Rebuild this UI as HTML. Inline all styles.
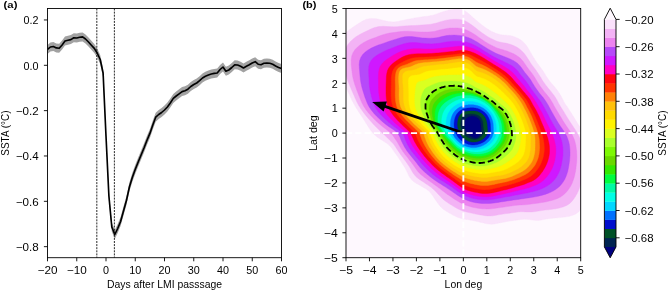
<!DOCTYPE html>
<html><head><meta charset="utf-8"><title>figure</title>
<style>html,body{margin:0;padding:0;background:#fff}body{width:669px;height:291px;overflow:hidden;position:relative;font-family:"Liberation Sans",sans-serif}</style></head>
<body>
<svg width="669" height="291" viewBox="0 0 669 291" style="display:block;position:absolute;left:0;top:0">
<defs>
<clipPath id="cr"><rect x="346.0" y="8.5" width="234.70000000000005" height="249.2"/></clipPath>
<clipPath id="cl"><rect x="47.5" y="8.5" width="234.0" height="249.2"/></clipPath>
</defs>
<rect x="0" y="0" width="669" height="291" fill="#fff"/>
<rect x="346.0" y="8.5" width="234.70000000000005" height="249.2" fill="#fef8fe"/>
<g clip-path="url(#cr)" shape-rendering="geometricPrecision">
<path d="M368.1,126.5 L366.4,123.7 L364.5,120.8 L362.6,117.8 L360.5,114.6 L358.3,111.3 L356.2,107.9 L354.2,104.4 L352.2,100.7 L350.4,96.9 L348.6,93.0 L346.6,88.9 L344.6,84.6 L342.4,80.1 L340.3,75.4 L338.5,70.6 L337.2,65.8 L336.4,61.1 L336.1,56.5 L336.5,52.1 L337.4,47.9 L338.8,44.0 L340.7,40.2 L342.9,36.7 L345.4,33.4 L348.4,30.5 L351.8,28.0 L355.4,25.6 L358.9,23.3 L362.5,21.1 L366.3,19.3 L370.9,18.4 L376.5,18.8 L382.8,20.3 L388.6,21.6 L393.4,22.0 L397.3,21.6 L400.8,20.8 L404.4,20.0 L407.8,19.3 L411.2,18.7 L414.6,18.0 L417.9,17.4 L421.2,16.9 L424.5,16.5 L427.8,16.2 L430.9,15.6 L434.0,14.9 L436.9,13.9 L439.8,12.8 L442.8,11.8 L445.7,10.9 L448.8,10.1 L451.8,9.5 L454.9,9.1 L458.0,9.1 L461.2,9.5 L464.4,10.6 L467.5,12.7 L470.6,15.3 L473.5,17.9 L476.3,20.3 L478.9,22.6 L481.5,24.7 L484.0,26.6 L486.4,28.3 L488.8,29.8 L491.2,31.2 L493.5,32.3 L495.9,33.3 L498.3,34.1 L500.7,34.7 L503.2,35.1 L505.8,35.3 L508.5,35.4 L511.1,35.8 L513.6,36.5 L516.0,37.4 L518.3,38.5 L520.6,39.8 L522.6,41.4 L524.5,43.2 L526.2,45.3 L527.8,47.5 L529.2,49.9 L530.5,52.2 L531.8,54.5 L533.1,56.7 L534.4,58.8 L535.8,60.9 L537.1,62.9 L538.5,64.8 L539.9,66.7 L541.3,68.6 L542.7,70.5 L544.0,72.4 L545.2,74.4 L546.4,76.4 L547.7,78.3 L549.0,80.2 L550.4,82.1 L552.0,83.9 L553.6,85.7 L555.1,87.6 L556.7,89.5 L558.1,91.5 L559.4,93.5 L560.7,95.6 L561.9,97.8 L563.0,100.0 L564.2,102.2 L565.5,104.4 L567.0,106.6 L568.6,108.9 L570.1,111.2 L571.6,113.6 L573.1,116.0 L574.6,118.5 L576.2,121.1 L577.9,123.8 L579.7,126.5 L581.4,129.3 L583.0,132.2 L584.5,135.2 L585.7,138.3 L586.8,141.4 L587.7,144.6 L588.5,147.8 L589.2,151.1 L589.8,154.4 L590.3,157.8 L590.7,161.2 L590.9,164.7 L591.0,168.1 L590.9,171.6 L590.6,175.0 L590.2,178.5 L589.7,181.9 L589.1,185.4 L588.3,188.8 L587.4,192.3 L586.4,195.7 L585.3,199.1 L584.0,202.5 L582.7,205.8 L581.0,209.0 L578.8,211.7 L575.9,213.9 L572.3,215.5 L568.3,216.5 L564.1,217.1 L559.9,217.6 L555.8,217.9 L551.9,218.3 L548.2,218.7 L544.7,219.3 L541.4,220.0 L538.0,220.4 L534.4,220.3 L530.7,219.8 L527.1,219.3 L523.8,219.2 L520.9,219.5 L518.0,219.9 L515.3,220.3 L512.5,220.7 L509.8,221.1 L507.1,221.4 L504.5,221.9 L501.9,222.4 L499.3,223.0 L496.8,223.5 L494.2,223.9 L491.6,224.2 L489.0,224.1 L486.3,223.7 L483.6,223.0 L481.0,222.4 L478.5,221.8 L476.0,221.2 L473.5,220.7 L471.0,220.3 L468.6,219.8 L466.2,219.4 L463.8,219.0 L461.4,218.4 L459.0,217.8 L456.7,216.9 L454.5,215.8 L452.3,214.7 L450.2,213.5 L448.1,212.3 L446.0,211.0 L444.0,209.7 L442.1,208.2 L440.4,206.4 L438.8,204.5 L437.3,202.5 L435.9,200.4 L434.5,198.4 L433.2,196.4 L431.8,194.5 L430.5,192.7 L429.0,191.3 L427.4,190.0 L425.7,188.8 L423.9,187.7 L422.1,186.7 L420.3,185.6 L418.4,184.5 L416.5,183.5 L414.7,182.3 L412.9,181.0 L411.4,179.5 L410.1,177.8 L409.0,176.0 L408.1,174.0 L407.2,172.1 L406.2,170.2 L405.2,168.3 L404.1,166.5 L403.0,164.8 L401.9,163.0 L400.8,161.2 L399.6,159.4 L398.4,157.6 L397.1,155.8 L395.8,154.0 L394.5,152.2 L393.2,150.3 L391.9,148.4 L390.4,146.5 L388.4,144.6 L385.9,142.7 L382.9,140.8 L379.8,138.8 L376.8,136.7 L374.1,134.3 L371.9,131.8 L369.9,129.2Z" fill="#fae1fb" stroke="#fae1fb" stroke-width="0.4"/>
<path d="M375.6,126.5 L373.1,123.9 L370.6,121.1 L368.1,118.2 L365.6,115.2 L363.1,112.0 L360.7,108.6 L358.6,105.2 L356.8,101.7 L355.1,98.1 L353.5,94.3 L351.8,90.5 L350.1,86.4 L348.3,82.2 L346.7,77.8 L345.4,73.4 L344.5,69.0 L343.8,64.6 L343.5,60.3 L343.6,56.0 L344.3,51.9 L345.7,48.2 L347.7,44.8 L350.2,41.8 L353.1,39.0 L356.3,36.6 L359.8,34.4 L363.5,32.5 L367.2,30.8 L370.8,29.1 L374.6,27.6 L378.7,26.6 L383.2,26.3 L388.2,26.6 L392.8,26.8 L396.9,26.7 L400.7,26.3 L404.4,25.9 L408.1,25.8 L411.7,25.6 L415.2,25.5 L418.5,25.3 L421.8,25.0 L425.0,24.8 L428.1,24.5 L431.1,24.2 L434.0,23.6 L436.8,22.9 L439.6,22.0 L442.3,21.2 L445.1,20.5 L447.9,19.9 L450.8,19.5 L453.6,19.3 L456.5,19.3 L459.4,19.4 L462.3,19.9 L465.2,20.9 L468.0,22.4 L470.8,24.3 L473.5,26.3 L476.1,28.3 L478.5,30.2 L480.9,32.0 L483.3,33.7 L485.5,35.2 L487.7,36.7 L489.9,37.9 L492.1,39.0 L494.3,40.1 L496.4,41.0 L498.6,41.7 L500.8,42.3 L503.2,42.7 L505.5,43.1 L507.8,43.6 L510.1,44.3 L512.3,45.1 L514.5,46.0 L516.6,47.1 L518.6,48.3 L520.5,49.8 L522.3,51.4 L523.9,53.1 L525.4,55.0 L526.8,57.0 L528.1,59.1 L529.4,61.1 L530.6,63.0 L531.9,64.9 L533.3,66.7 L534.6,68.5 L536.0,70.3 L537.2,72.1 L538.5,73.9 L539.6,75.8 L540.8,77.6 L541.9,79.5 L543.0,81.3 L544.3,83.1 L545.6,84.9 L546.9,86.6 L548.4,88.4 L549.8,90.1 L551.3,91.9 L552.7,93.7 L554.1,95.6 L555.4,97.5 L556.6,99.5 L557.7,101.6 L558.8,103.7 L560.0,105.7 L561.3,107.8 L562.7,110.0 L564.1,112.2 L565.4,114.4 L566.8,116.7 L568.2,119.0 L569.8,121.5 L571.4,123.9 L573.1,126.5 L574.9,129.2 L576.6,131.9 L578.2,134.7 L579.6,137.6 L580.7,140.6 L581.6,143.6 L582.3,146.7 L582.9,149.7 L583.3,152.9 L583.6,156.0 L583.8,159.2 L583.8,162.3 L583.7,165.5 L583.5,168.7 L583.2,171.9 L582.7,175.1 L582.2,178.3 L581.5,181.5 L580.6,184.6 L579.6,187.7 L578.4,190.8 L577.0,193.7 L575.4,196.5 L573.6,199.2 L571.6,201.7 L569.1,203.9 L566.2,205.7 L562.9,207.0 L559.4,208.0 L555.7,208.7 L552.1,209.3 L548.4,209.7 L544.9,210.1 L541.6,210.6 L538.4,211.1 L535.3,211.6 L532.2,211.9 L529.0,212.0 L525.8,211.9 L522.7,211.7 L519.8,211.8 L517.1,212.1 L514.5,212.5 L511.9,212.8 L509.4,213.2 L506.9,213.5 L504.4,213.8 L502.0,214.2 L499.6,214.6 L497.2,215.0 L494.9,215.4 L492.5,215.8 L490.1,215.9 L487.7,215.9 L485.2,215.7 L482.8,215.3 L480.5,214.9 L478.1,214.5 L475.8,214.1 L473.5,213.6 L471.2,213.1 L469.0,212.6 L466.8,212.1 L464.6,211.4 L462.4,210.7 L460.3,209.9 L458.2,209.0 L456.2,207.9 L454.2,206.8 L452.3,205.6 L450.4,204.4 L448.6,203.3 L446.7,202.0 L445.0,200.8 L443.3,199.4 L441.7,197.9 L440.2,196.3 L438.7,194.7 L437.3,193.2 L435.9,191.7 L434.5,190.2 L433.0,188.9 L431.5,187.6 L429.9,186.4 L428.3,185.3 L426.7,184.3 L425.1,183.2 L423.5,182.1 L421.8,181.0 L420.1,179.9 L418.5,178.7 L416.9,177.5 L415.4,176.1 L414.2,174.5 L413.0,172.9 L412.0,171.2 L411.0,169.5 L410.0,167.7 L409.0,166.1 L407.8,164.4 L406.7,162.8 L405.5,161.1 L404.3,159.5 L403.1,157.8 L401.9,156.2 L400.6,154.5 L399.4,152.7 L398.2,151.0 L397.0,149.2 L395.8,147.3 L394.6,145.5 L393.1,143.6 L391.3,141.7 L389.4,139.8 L387.3,137.8 L385.2,135.8 L383.0,133.6 L380.6,131.4 L378.1,129.0Z" fill="#f3b3f5" stroke="#f3b3f5" stroke-width="0.4"/>
<path d="M382.4,126.5 L379.5,124.0 L376.6,121.4 L373.8,118.7 L371.0,115.7 L368.3,112.7 L365.8,109.4 L363.7,106.2 L361.9,102.8 L360.4,99.3 L359.0,95.8 L357.6,92.2 L356.2,88.4 L354.8,84.5 L353.6,80.5 L352.7,76.5 L352.1,72.4 L351.6,68.4 L351.2,64.2 L351.2,60.1 L351.7,56.2 L353.0,52.7 L355.1,49.6 L357.7,46.9 L360.6,44.5 L363.9,42.4 L367.4,40.6 L371.1,39.1 L374.8,37.7 L378.5,36.3 L382.0,35.0 L385.7,33.9 L389.4,33.1 L393.3,32.6 L397.1,32.1 L400.7,31.6 L404.3,31.3 L408.0,31.2 L411.8,31.4 L415.4,31.7 L418.9,31.9 L422.2,32.0 L425.4,32.0 L428.4,32.0 L431.3,31.8 L434.1,31.4 L436.8,30.8 L439.4,30.1 L442.0,29.5 L444.6,28.9 L447.2,28.4 L449.9,28.1 L452.6,28.0 L455.2,28.0 L457.9,28.1 L460.6,28.4 L463.2,29.0 L465.9,29.8 L468.5,30.9 L471.0,32.2 L473.5,33.7 L475.9,35.3 L478.2,36.9 L480.4,38.5 L482.6,40.0 L484.7,41.4 L486.8,42.7 L488.8,43.9 L490.8,45.0 L492.8,46.0 L494.8,47.0 L496.8,47.9 L498.8,48.6 L500.9,49.3 L502.9,49.8 L505.0,50.4 L507.1,51.1 L509.1,51.9 L511.1,52.7 L513.1,53.6 L515.0,54.6 L516.9,55.7 L518.7,56.9 L520.4,58.3 L521.9,59.9 L523.3,61.6 L524.6,63.4 L525.8,65.3 L527.0,67.1 L528.3,68.8 L529.6,70.4 L530.9,72.0 L532.2,73.7 L533.4,75.4 L534.5,77.1 L535.6,78.9 L536.6,80.6 L537.7,82.4 L538.7,84.1 L539.9,85.8 L541.1,87.5 L542.3,89.1 L543.6,90.8 L544.9,92.4 L546.3,94.1 L547.7,95.8 L549.1,97.5 L550.3,99.3 L551.5,101.2 L552.6,103.1 L553.6,105.0 L554.7,107.0 L555.9,109.0 L557.1,111.0 L558.3,113.1 L559.6,115.2 L560.9,117.3 L562.2,119.5 L563.6,121.8 L565.1,124.1 L566.7,126.5 L568.5,129.0 L570.2,131.6 L571.9,134.2 L573.2,137.0 L574.4,139.8 L575.2,142.6 L575.9,145.5 L576.3,148.4 L576.7,151.3 L576.8,154.2 L576.9,157.1 L576.8,160.1 L576.6,163.0 L576.2,165.9 L575.9,168.9 L575.4,171.9 L574.8,174.8 L574.1,177.7 L573.1,180.6 L572.0,183.4 L570.7,186.1 L569.1,188.6 L567.3,191.0 L565.3,193.2 L563.0,195.2 L560.5,196.9 L557.6,198.4 L554.6,199.6 L551.5,200.5 L548.3,201.3 L545.1,202.0 L542.0,202.5 L538.8,203.0 L535.8,203.4 L532.8,203.8 L530.0,204.2 L527.2,204.6 L524.4,204.8 L521.6,204.9 L518.9,205.1 L516.3,205.3 L513.8,205.6 L511.4,206.0 L509.0,206.3 L506.7,206.6 L504.4,207.0 L502.1,207.3 L499.9,207.6 L497.6,207.9 L495.4,208.3 L493.2,208.5 L491.0,208.8 L488.8,208.9 L486.6,208.9 L484.3,208.8 L482.1,208.7 L479.9,208.4 L477.8,208.2 L475.6,207.8 L473.5,207.4 L471.4,206.9 L469.3,206.3 L467.3,205.7 L465.3,205.0 L463.3,204.1 L461.4,203.2 L459.5,202.2 L457.6,201.1 L455.8,200.0 L454.1,198.9 L452.4,197.8 L450.7,196.6 L449.1,195.5 L447.4,194.4 L445.8,193.3 L444.3,192.1 L442.8,190.9 L441.3,189.8 L439.8,188.6 L438.3,187.5 L436.8,186.3 L435.3,185.2 L433.9,184.2 L432.4,183.1 L430.9,182.1 L429.4,181.0 L427.9,179.9 L426.4,178.8 L424.9,177.7 L423.4,176.6 L422.0,175.4 L420.5,174.2 L419.2,172.9 L417.9,171.5 L416.7,170.0 L415.7,168.5 L414.6,167.0 L413.6,165.4 L412.5,163.9 L411.4,162.4 L410.2,160.9 L409.0,159.4 L407.8,157.8 L406.6,156.3 L405.3,154.7 L404.1,153.1 L402.9,151.5 L401.8,149.8 L400.7,148.1 L399.7,146.3 L398.7,144.5 L397.6,142.6 L396.4,140.8 L395.2,138.9 L393.9,137.0 L392.5,135.0 L390.6,133.0 L388.2,131.0 L385.4,128.8Z" fill="#ec84ef" stroke="#ec84ef" stroke-width="0.4"/>
<path d="M388.6,126.5 L385.5,124.2 L382.5,121.7 L379.6,119.1 L376.7,116.3 L374.0,113.4 L371.5,110.3 L369.3,107.2 L367.6,104.0 L366.3,100.8 L365.0,97.4 L363.9,94.0 L362.8,90.5 L361.8,86.9 L361.0,83.3 L360.4,79.7 L360.0,76.0 L359.7,72.2 L359.4,68.3 L359.2,64.4 L359.6,60.7 L360.8,57.4 L362.7,54.6 L365.2,52.1 L368.1,49.9 L371.3,48.1 L374.7,46.5 L378.2,45.1 L381.7,43.9 L385.2,42.7 L388.5,41.5 L391.8,40.4 L395.0,39.4 L398.2,38.4 L401.4,37.5 L404.7,36.8 L408.1,36.5 L411.7,36.6 L415.4,37.0 L419.0,37.5 L422.3,37.9 L425.5,38.1 L428.5,38.2 L431.4,38.2 L434.1,38.1 L436.7,37.7 L439.2,37.2 L441.7,36.6 L444.1,36.1 L446.6,35.6 L449.1,35.3 L451.6,35.2 L454.1,35.1 L456.6,35.2 L459.1,35.4 L461.5,35.7 L464.0,36.2 L466.4,36.9 L468.8,37.7 L471.2,38.7 L473.5,39.9 L475.7,41.2 L477.9,42.5 L480.0,43.9 L482.0,45.2 L484.0,46.5 L486.0,47.7 L487.9,48.9 L489.8,50.0 L491.6,51.0 L493.5,52.0 L495.3,52.9 L497.1,53.8 L499.0,54.6 L500.8,55.3 L502.7,56.0 L504.6,56.7 L506.4,57.4 L508.3,58.2 L510.1,59.0 L512.0,59.9 L513.7,60.8 L515.5,61.9 L517.1,63.1 L518.6,64.4 L520.0,65.9 L521.3,67.5 L522.5,69.2 L523.6,70.8 L524.8,72.4 L526.1,73.9 L527.3,75.4 L528.5,76.9 L529.7,78.5 L530.8,80.1 L531.8,81.8 L532.8,83.4 L533.8,85.1 L534.8,86.7 L535.9,88.3 L537.0,89.8 L538.2,91.4 L539.3,93.0 L540.6,94.5 L541.8,96.1 L543.2,97.6 L544.4,99.3 L545.6,101.0 L546.7,102.7 L547.8,104.5 L548.8,106.3 L549.8,108.2 L550.8,110.1 L551.9,112.0 L553.0,113.9 L554.1,115.9 L555.3,117.9 L556.5,120.0 L557.7,122.1 L559.1,124.3 L560.6,126.5 L562.2,128.8 L563.9,131.2 L565.4,133.7 L566.8,136.3 L567.8,138.9 L568.7,141.6 L569.3,144.2 L569.7,146.9 L569.9,149.7 L570.0,152.4 L570.0,155.1 L569.8,157.8 L569.6,160.5 L569.2,163.2 L568.8,166.0 L568.3,168.7 L567.7,171.4 L566.9,174.1 L565.9,176.7 L564.8,179.2 L563.4,181.6 L561.8,183.8 L560.0,185.9 L557.9,187.8 L555.6,189.5 L553.1,191.0 L550.5,192.3 L547.8,193.4 L545.0,194.4 L542.2,195.2 L539.4,195.9 L536.6,196.5 L533.8,197.1 L531.0,197.5 L528.3,197.9 L525.7,198.3 L523.1,198.7 L520.6,199.0 L518.2,199.4 L515.8,199.7 L513.4,200.0 L511.1,200.4 L508.9,200.7 L506.7,201.1 L504.5,201.4 L502.4,201.7 L500.3,202.0 L498.2,202.4 L496.1,202.7 L494.0,203.0 L491.9,203.2 L489.8,203.4 L487.8,203.5 L485.7,203.5 L483.6,203.5 L481.6,203.4 L479.5,203.2 L477.5,203.0 L475.5,202.7 L473.5,202.3 L471.5,201.8 L469.6,201.2 L467.7,200.6 L465.8,199.8 L464.0,199.0 L462.2,198.0 L460.4,197.0 L458.7,196.0 L457.1,194.9 L455.5,193.8 L453.9,192.7 L452.3,191.6 L450.8,190.6 L449.3,189.6 L447.8,188.6 L446.3,187.6 L444.8,186.6 L443.3,185.7 L441.9,184.7 L440.4,183.8 L438.9,182.9 L437.5,182.0 L436.0,181.0 L434.6,180.0 L433.2,179.0 L431.8,178.0 L430.5,176.9 L429.1,175.8 L427.8,174.7 L426.4,173.6 L425.1,172.4 L423.8,171.3 L422.5,170.1 L421.3,168.8 L420.1,167.5 L419.0,166.1 L417.9,164.7 L416.9,163.3 L415.8,161.9 L414.7,160.5 L413.5,159.1 L412.4,157.7 L411.2,156.2 L410.0,154.8 L408.8,153.3 L407.6,151.8 L406.5,150.2 L405.5,148.6 L404.5,146.9 L403.6,145.2 L402.7,143.5 L401.8,141.7 L401.0,139.9 L400.3,138.1 L399.5,136.2 L398.4,134.4 L396.8,132.5 L394.5,130.6 L391.7,128.6Z" fill="#b64af9" stroke="#b64af9" stroke-width="0.4"/>
<path d="M394.1,126.5 L391.3,124.3 L388.5,122.0 L385.8,119.6 L383.1,117.0 L380.5,114.3 L378.1,111.4 L376.1,108.5 L374.5,105.5 L373.3,102.5 L372.3,99.4 L371.4,96.3 L370.7,93.1 L370.0,89.9 L369.5,86.6 L369.2,83.3 L369.1,80.0 L368.9,76.6 L368.7,73.1 L368.6,69.5 L368.9,66.1 L369.8,63.0 L371.4,60.2 L373.6,57.8 L376.2,55.8 L379.0,54.0 L382.0,52.4 L385.0,50.9 L388.1,49.6 L391.2,48.4 L394.2,47.2 L397.2,46.1 L400.2,45.0 L403.1,44.1 L406.1,43.2 L409.2,42.7 L412.4,42.5 L415.9,42.6 L419.3,43.0 L422.6,43.4 L425.7,43.7 L428.6,43.8 L431.4,43.9 L434.1,43.8 L436.6,43.6 L439.0,43.3 L441.4,42.9 L443.7,42.4 L446.1,42.0 L448.4,41.7 L450.7,41.5 L453.0,41.3 L455.4,41.2 L457.7,41.2 L460.0,41.3 L462.3,41.4 L464.6,41.8 L466.9,42.3 L469.1,43.0 L471.3,43.8 L473.5,44.7 L475.6,45.8 L477.7,46.9 L479.7,48.1 L481.6,49.3 L483.5,50.5 L485.3,51.7 L487.2,52.8 L488.9,53.9 L490.7,54.9 L492.4,55.9 L494.1,56.9 L495.8,57.8 L497.5,58.7 L499.2,59.5 L500.9,60.3 L502.6,61.1 L504.3,61.9 L506.0,62.7 L507.7,63.5 L509.3,64.4 L511.0,65.3 L512.6,66.3 L514.1,67.4 L515.5,68.7 L516.8,70.0 L518.1,71.5 L519.2,73.0 L520.3,74.5 L521.5,76.0 L522.7,77.3 L523.8,78.7 L525.0,80.1 L526.1,81.6 L527.2,83.0 L528.2,84.6 L529.2,86.1 L530.2,87.6 L531.2,89.0 L532.3,90.5 L533.4,91.9 L534.5,93.4 L535.6,94.9 L536.7,96.4 L537.8,97.9 L539.0,99.4 L540.1,100.9 L541.2,102.5 L542.2,104.2 L543.2,105.9 L544.1,107.6 L545.1,109.3 L546.0,111.1 L547.0,112.9 L548.0,114.7 L548.9,116.6 L549.9,118.5 L551.0,120.4 L552.1,122.4 L553.2,124.4 L554.4,126.5 L555.8,128.7 L557.2,130.9 L558.5,133.2 L559.7,135.6 L560.7,138.0 L561.5,140.4 L562.1,142.9 L562.5,145.4 L562.8,147.9 L562.9,150.5 L562.9,153.0 L562.8,155.5 L562.5,158.0 L562.1,160.5 L561.7,163.0 L561.2,165.5 L560.5,168.0 L559.7,170.4 L558.7,172.8 L557.6,175.1 L556.3,177.2 L554.8,179.3 L553.1,181.2 L551.2,183.0 L549.2,184.6 L547.0,186.0 L544.7,187.3 L542.2,188.4 L539.8,189.4 L537.3,190.3 L534.8,191.1 L532.2,191.7 L529.7,192.3 L527.2,192.9 L524.8,193.3 L522.4,193.8 L520.1,194.2 L517.8,194.7 L515.5,195.1 L513.4,195.5 L511.2,196.0 L509.1,196.4 L507.0,196.7 L504.9,197.1 L502.9,197.5 L500.9,197.9 L498.9,198.2 L496.9,198.6 L494.9,198.9 L493.0,199.2 L491.0,199.4 L489.0,199.6 L487.1,199.7 L485.1,199.7 L483.1,199.7 L481.2,199.6 L479.2,199.4 L477.3,199.2 L475.4,198.8 L473.5,198.4 L471.6,198.0 L469.8,197.4 L468.0,196.8 L466.2,196.1 L464.4,195.3 L462.7,194.4 L461.1,193.4 L459.5,192.4 L457.9,191.4 L456.4,190.3 L454.9,189.2 L453.5,188.2 L452.0,187.1 L450.6,186.2 L449.2,185.2 L447.8,184.3 L446.4,183.4 L445.0,182.5 L443.6,181.6 L442.2,180.7 L440.8,179.9 L439.4,179.0 L438.0,178.1 L436.7,177.2 L435.4,176.2 L434.1,175.2 L432.8,174.2 L431.5,173.1 L430.3,172.0 L429.1,170.9 L427.9,169.8 L426.7,168.7 L425.5,167.5 L424.3,166.3 L423.2,165.1 L422.1,163.9 L421.0,162.6 L420.0,161.3 L418.9,160.0 L417.8,158.6 L416.7,157.3 L415.6,156.0 L414.5,154.6 L413.4,153.3 L412.3,151.8 L411.2,150.4 L410.2,148.9 L409.2,147.4 L408.3,145.8 L407.4,144.2 L406.6,142.6 L405.9,140.9 L405.2,139.2 L404.6,137.4 L403.9,135.7 L402.9,133.9 L401.5,132.2 L399.5,130.4 L396.9,128.5Z" fill="#cf18ff" stroke="#cf18ff" stroke-width="0.4"/>
<path d="M399.2,126.5 L396.8,124.5 L394.4,122.4 L392.1,120.1 L389.8,117.7 L387.5,115.2 L385.5,112.6 L383.7,109.8 L382.2,107.1 L381.1,104.3 L380.3,101.5 L379.7,98.7 L379.2,95.9 L378.8,93.0 L378.6,90.1 L378.5,87.1 L378.5,84.2 L378.5,81.2 L378.4,78.1 L378.5,74.9 L378.7,71.8 L379.3,68.8 L380.4,66.1 L382.1,63.7 L384.1,61.6 L386.5,59.7 L389.0,58.0 L391.4,56.4 L393.9,54.9 L396.5,53.5 L399.2,52.2 L402.0,51.1 L404.8,50.3 L407.8,49.6 L410.8,49.1 L413.9,48.8 L417.0,48.7 L420.1,48.8 L423.1,48.9 L426.0,49.0 L428.8,49.1 L431.4,49.0 L434.0,48.9 L436.4,48.8 L438.8,48.6 L441.1,48.3 L443.4,48.0 L445.6,47.7 L447.8,47.4 L450.0,47.2 L452.2,47.0 L454.4,46.7 L456.5,46.5 L458.6,46.3 L460.8,46.2 L462.9,46.2 L465.1,46.4 L467.2,46.8 L469.4,47.4 L471.4,48.0 L473.5,48.8 L475.5,49.7 L477.5,50.7 L479.4,51.8 L481.2,52.9 L483.0,54.0 L484.8,55.1 L486.5,56.2 L488.2,57.2 L489.9,58.3 L491.5,59.3 L493.1,60.2 L494.7,61.2 L496.3,62.1 L497.9,63.0 L499.4,63.9 L501.0,64.7 L502.5,65.6 L504.1,66.5 L505.6,67.4 L507.1,68.4 L508.5,69.3 L509.9,70.4 L511.3,71.5 L512.6,72.7 L513.9,73.9 L515.0,75.2 L516.1,76.6 L517.2,78.0 L518.3,79.3 L519.4,80.6 L520.5,81.9 L521.6,83.2 L522.7,84.5 L523.8,85.8 L524.8,87.1 L525.8,88.5 L526.8,89.9 L527.9,91.2 L529.0,92.5 L530.1,93.8 L531.2,95.2 L532.2,96.6 L533.2,98.0 L534.2,99.5 L535.1,101.0 L536.1,102.5 L537.0,104.0 L537.9,105.6 L538.8,107.2 L539.7,108.8 L540.6,110.4 L541.5,112.0 L542.4,113.7 L543.2,115.5 L544.1,117.2 L544.9,119.0 L545.7,120.8 L546.6,122.7 L547.5,124.6 L548.5,126.5 L549.5,128.5 L550.5,130.5 L551.6,132.6 L552.5,134.8 L553.3,137.0 L554.1,139.3 L554.7,141.6 L555.2,143.9 L555.6,146.2 L555.8,148.5 L555.8,150.9 L555.8,153.2 L555.5,155.6 L555.2,157.9 L554.8,160.2 L554.2,162.4 L553.5,164.7 L552.7,166.9 L551.8,169.0 L550.7,171.1 L549.5,173.1 L548.2,175.0 L546.8,176.8 L545.2,178.6 L543.5,180.2 L541.6,181.7 L539.7,183.0 L537.6,184.2 L535.3,185.2 L533.1,186.1 L530.8,186.9 L528.6,187.7 L526.3,188.3 L524.1,188.9 L521.9,189.5 L519.7,190.0 L517.5,190.6 L515.4,191.1 L513.4,191.6 L511.4,192.1 L509.4,192.6 L507.4,193.0 L505.4,193.4 L503.5,193.9 L501.6,194.3 L499.7,194.7 L497.8,195.1 L495.9,195.5 L494.0,195.9 L492.2,196.2 L490.3,196.4 L488.4,196.6 L486.5,196.7 L484.6,196.7 L482.7,196.6 L480.9,196.5 L479.0,196.3 L477.1,196.0 L475.3,195.6 L473.5,195.2 L471.7,194.8 L469.9,194.3 L468.2,193.7 L466.5,193.1 L464.8,192.3 L463.2,191.5 L461.6,190.6 L460.1,189.6 L458.6,188.6 L457.2,187.5 L455.7,186.5 L454.4,185.4 L453.0,184.4 L451.6,183.4 L450.3,182.5 L449.0,181.6 L447.7,180.7 L446.3,179.8 L445.0,178.9 L443.7,178.0 L442.5,177.2 L441.2,176.3 L439.9,175.4 L438.6,174.5 L437.4,173.6 L436.2,172.6 L435.0,171.6 L433.8,170.6 L432.6,169.6 L431.5,168.5 L430.4,167.4 L429.3,166.3 L428.2,165.2 L427.1,164.1 L426.0,163.0 L424.9,161.8 L423.9,160.6 L422.8,159.4 L421.8,158.2 L420.8,156.9 L419.8,155.6 L418.8,154.4 L417.8,153.1 L416.8,151.7 L415.8,150.4 L414.8,149.0 L413.9,147.6 L412.9,146.2 L412.0,144.7 L411.2,143.2 L410.4,141.6 L409.7,140.1 L409.0,138.4 L408.4,136.8 L407.7,135.2 L406.7,133.5 L405.4,131.9 L403.6,130.2 L401.5,128.4Z" fill="#ff00c3" stroke="#ff00c3" stroke-width="0.4"/>
<path d="M403.9,126.5 L401.9,124.6 L399.9,122.6 L397.8,120.5 L395.8,118.3 L393.8,116.0 L392.0,113.6 L390.3,111.1 L388.9,108.5 L387.9,106.0 L387.2,103.4 L386.7,100.8 L386.3,98.2 L386.1,95.6 L386.0,92.9 L386.0,90.2 L386.0,87.6 L386.1,84.8 L386.2,82.0 L386.3,79.1 L386.4,76.2 L386.8,73.4 L387.5,70.6 L388.6,68.2 L390.2,66.0 L392.1,64.1 L394.3,62.3 L396.5,60.7 L398.7,59.2 L401.1,57.8 L403.5,56.5 L406.1,55.5 L408.8,54.7 L411.7,54.2 L414.7,53.9 L417.7,53.8 L420.7,53.8 L423.5,53.7 L426.2,53.7 L428.8,53.6 L431.3,53.5 L433.8,53.3 L436.1,53.1 L438.4,52.9 L440.6,52.7 L442.8,52.4 L445.0,52.2 L447.1,52.0 L449.2,51.8 L451.3,51.6 L453.4,51.4 L455.4,51.1 L457.4,50.8 L459.4,50.6 L461.4,50.4 L463.5,50.3 L465.5,50.4 L467.5,50.8 L469.6,51.3 L471.5,52.0 L473.5,52.7 L475.4,53.6 L477.3,54.5 L479.1,55.4 L480.9,56.4 L482.6,57.4 L484.3,58.4 L485.9,59.5 L487.5,60.5 L489.1,61.5 L490.7,62.5 L492.2,63.4 L493.7,64.4 L495.2,65.3 L496.6,66.2 L498.1,67.1 L499.5,68.0 L501.0,68.9 L502.4,69.9 L503.7,70.8 L505.1,71.8 L506.4,72.8 L507.7,73.9 L508.9,74.9 L510.1,76.1 L511.3,77.3 L512.4,78.5 L513.4,79.7 L514.5,81.0 L515.5,82.2 L516.6,83.4 L517.6,84.6 L518.7,85.8 L519.8,87.0 L520.8,88.2 L521.8,89.4 L522.8,90.7 L523.8,91.9 L524.9,93.1 L525.9,94.4 L527.0,95.6 L528.1,96.9 L529.1,98.2 L530.0,99.6 L530.8,101.0 L531.6,102.4 L532.4,103.9 L533.2,105.4 L534.0,106.8 L534.9,108.3 L535.8,109.8 L536.6,111.3 L537.4,112.9 L538.2,114.5 L539.0,116.1 L539.7,117.8 L540.4,119.5 L541.1,121.2 L541.8,122.9 L542.6,124.7 L543.4,126.5 L544.1,128.3 L544.9,130.2 L545.6,132.2 L546.4,134.2 L547.1,136.2 L547.8,138.3 L548.3,140.4 L548.8,142.5 L549.2,144.7 L549.4,146.8 L549.5,149.0 L549.5,151.2 L549.4,153.4 L549.1,155.5 L548.7,157.6 L548.1,159.7 L547.5,161.8 L546.7,163.8 L545.8,165.7 L544.8,167.7 L543.7,169.5 L542.6,171.4 L541.3,173.1 L540.0,174.8 L538.5,176.4 L536.9,177.9 L535.2,179.2 L533.4,180.4 L531.4,181.4 L529.3,182.3 L527.2,183.1 L525.2,183.9 L523.2,184.7 L521.1,185.3 L519.1,185.9 L517.1,186.5 L515.2,187.1 L513.2,187.7 L511.3,188.2 L509.4,188.7 L507.5,189.2 L505.7,189.7 L503.8,190.1 L502.0,190.5 L500.2,191.0 L498.4,191.4 L496.6,191.9 L494.9,192.3 L493.1,192.7 L491.3,193.0 L489.5,193.3 L487.7,193.4 L485.9,193.5 L484.1,193.5 L482.3,193.4 L480.5,193.2 L478.7,192.9 L477.0,192.6 L475.2,192.3 L473.5,191.9 L471.8,191.5 L470.1,191.0 L468.5,190.5 L466.8,189.9 L465.2,189.3 L463.7,188.5 L462.2,187.7 L460.7,186.7 L459.3,185.7 L457.9,184.7 L456.6,183.7 L455.2,182.7 L453.9,181.8 L452.7,180.8 L451.4,179.9 L450.1,179.0 L448.9,178.1 L447.6,177.3 L446.4,176.4 L445.2,175.5 L444.0,174.6 L442.8,173.7 L441.6,172.9 L440.5,172.0 L439.3,171.1 L438.1,170.2 L437.0,169.2 L435.9,168.3 L434.8,167.3 L433.7,166.3 L432.7,165.2 L431.7,164.2 L430.6,163.1 L429.6,162.0 L428.6,161.0 L427.6,159.9 L426.6,158.8 L425.6,157.6 L424.6,156.4 L423.7,155.3 L422.8,154.1 L421.8,152.8 L420.9,151.6 L420.0,150.3 L419.1,149.0 L418.3,147.7 L417.4,146.4 L416.5,145.0 L415.7,143.6 L414.9,142.2 L414.1,140.7 L413.5,139.3 L412.8,137.8 L412.1,136.2 L411.4,134.7 L410.5,133.1 L409.2,131.6 L407.6,130.0 L405.8,128.3Z" fill="#ff0512" stroke="#ff0512" stroke-width="0.4"/>
<path d="M408.4,126.5 L406.6,124.7 L404.7,122.9 L402.8,120.9 L400.9,118.9 L399.0,116.7 L397.2,114.4 L395.6,112.1 L394.2,109.6 L393.1,107.2 L392.3,104.7 L391.7,102.3 L391.4,99.8 L391.2,97.4 L391.1,94.9 L391.1,92.4 L391.1,89.8 L391.2,87.2 L391.3,84.6 L391.3,81.9 L391.3,79.1 L391.5,76.3 L392.0,73.5 L392.7,71.0 L393.9,68.7 L395.5,66.6 L397.5,65.0 L399.8,63.6 L402.2,62.3 L404.6,61.1 L407.0,60.0 L409.4,59.0 L412.0,58.2 L414.7,57.7 L417.5,57.4 L420.4,57.3 L423.1,57.2 L425.8,57.1 L428.3,56.9 L430.8,56.8 L433.2,56.7 L435.5,56.5 L437.7,56.3 L439.9,56.0 L442.0,55.8 L444.1,55.6 L446.2,55.3 L448.2,55.1 L450.2,54.9 L452.2,54.7 L454.2,54.4 L456.1,54.2 L458.1,53.9 L460.0,53.7 L461.9,53.6 L463.9,53.5 L465.9,53.7 L467.8,54.2 L469.7,54.8 L471.6,55.6 L473.5,56.6 L475.3,57.5 L477.1,58.5 L478.8,59.3 L480.5,60.2 L482.1,61.0 L483.7,61.9 L485.3,62.8 L486.8,63.7 L488.4,64.6 L489.8,65.5 L491.3,66.4 L492.7,67.3 L494.1,68.2 L495.5,69.1 L496.9,70.0 L498.2,70.9 L499.6,71.8 L500.9,72.8 L502.2,73.7 L503.4,74.7 L504.7,75.6 L505.9,76.7 L507.0,77.7 L508.2,78.8 L509.3,79.9 L510.3,81.0 L511.3,82.2 L512.3,83.4 L513.3,84.5 L514.3,85.7 L515.4,86.8 L516.4,87.9 L517.4,89.0 L518.4,90.1 L519.4,91.3 L520.4,92.5 L521.3,93.6 L522.3,94.8 L523.3,96.0 L524.3,97.2 L525.3,98.4 L526.2,99.6 L527.0,101.0 L527.8,102.3 L528.6,103.7 L529.3,105.1 L530.0,106.5 L530.8,107.9 L531.6,109.3 L532.4,110.7 L533.1,112.2 L533.9,113.7 L534.6,115.2 L535.3,116.7 L535.9,118.3 L536.6,119.9 L537.2,121.5 L537.9,123.1 L538.5,124.8 L539.2,126.5 L539.9,128.2 L540.5,130.0 L541.1,131.8 L541.8,133.7 L542.4,135.6 L542.9,137.5 L543.4,139.4 L543.7,141.4 L544.0,143.4 L544.2,145.4 L544.3,147.5 L544.3,149.5 L544.2,151.5 L543.9,153.5 L543.6,155.5 L543.1,157.5 L542.5,159.4 L541.8,161.3 L541.1,163.2 L540.2,165.0 L539.2,166.8 L538.1,168.5 L536.9,170.1 L535.7,171.7 L534.3,173.2 L532.9,174.6 L531.3,175.9 L529.6,177.0 L527.8,178.0 L525.9,178.9 L524.0,179.7 L522.1,180.5 L520.3,181.2 L518.4,181.9 L516.5,182.6 L514.7,183.2 L512.9,183.8 L511.0,184.3 L509.2,184.8 L507.4,185.3 L505.7,185.7 L503.9,186.1 L502.1,186.5 L500.4,187.0 L498.7,187.4 L497.0,187.8 L495.4,188.2 L493.7,188.6 L492.0,189.0 L490.3,189.3 L488.6,189.5 L486.9,189.6 L485.2,189.7 L483.5,189.7 L481.8,189.5 L480.1,189.3 L478.4,189.1 L476.8,188.8 L475.1,188.4 L473.5,188.1 L471.9,187.7 L470.3,187.3 L468.8,186.8 L467.2,186.3 L465.7,185.7 L464.2,185.1 L462.8,184.3 L461.4,183.5 L460.0,182.6 L458.7,181.7 L457.4,180.8 L456.2,179.9 L454.9,179.0 L453.7,178.1 L452.5,177.2 L451.3,176.4 L450.1,175.6 L448.9,174.7 L447.7,173.9 L446.6,173.1 L445.5,172.2 L444.3,171.4 L443.2,170.5 L442.1,169.7 L441.0,168.8 L439.9,168.0 L438.9,167.1 L437.8,166.1 L436.8,165.2 L435.8,164.2 L434.8,163.2 L433.8,162.2 L432.9,161.2 L431.9,160.2 L431.0,159.1 L430.0,158.1 L429.1,157.0 L428.2,155.9 L427.3,154.8 L426.4,153.7 L425.6,152.5 L424.7,151.4 L423.9,150.2 L423.1,148.9 L422.3,147.7 L421.5,146.5 L420.7,145.2 L420.0,143.9 L419.2,142.6 L418.5,141.2 L417.9,139.9 L417.3,138.5 L416.7,137.0 L416.1,135.6 L415.4,134.1 L414.5,132.7 L413.3,131.2 L411.8,129.7 L410.2,128.2Z" fill="#ff3400" stroke="#ff3400" stroke-width="0.4"/>
<path d="M412.8,126.5 L411.1,124.9 L409.3,123.1 L407.4,121.3 L405.6,119.4 L403.7,117.3 L401.9,115.2 L400.2,112.9 L398.7,110.6 L397.5,108.3 L396.6,105.9 L396.0,103.5 L395.6,101.2 L395.4,98.8 L395.2,96.5 L395.2,94.1 L395.2,91.6 L395.3,89.2 L395.3,86.7 L395.3,84.0 L395.2,81.3 L395.2,78.5 L395.4,75.8 L395.8,73.1 L396.6,70.6 L397.9,68.5 L399.9,66.9 L402.4,65.8 L405.0,64.9 L407.6,63.9 L409.9,62.9 L412.2,61.9 L414.6,61.1 L417.1,60.5 L419.8,60.2 L422.5,60.0 L425.1,59.8 L427.6,59.7 L430.0,59.5 L432.3,59.3 L434.6,59.2 L436.8,59.0 L439.0,58.8 L441.1,58.6 L443.2,58.3 L445.2,58.1 L447.1,57.8 L449.1,57.6 L451.0,57.3 L452.9,57.1 L454.8,56.8 L456.7,56.6 L458.6,56.3 L460.5,56.2 L462.3,56.1 L464.2,56.2 L466.1,56.5 L468.0,57.0 L469.9,57.9 L471.7,59.0 L473.5,60.2 L475.2,61.4 L476.9,62.4 L478.5,63.2 L480.1,63.9 L481.7,64.6 L483.2,65.3 L484.7,66.0 L486.2,66.8 L487.6,67.6 L489.1,68.4 L490.5,69.2 L491.8,70.0 L493.2,70.9 L494.5,71.7 L495.8,72.6 L497.1,73.5 L498.4,74.3 L499.6,75.2 L500.8,76.2 L502.0,77.1 L503.2,78.1 L504.3,79.0 L505.4,80.0 L506.5,81.1 L507.6,82.1 L508.6,83.2 L509.6,84.3 L510.5,85.4 L511.5,86.5 L512.5,87.5 L513.5,88.6 L514.4,89.6 L515.4,90.7 L516.4,91.8 L517.3,92.9 L518.2,94.0 L519.1,95.1 L520.0,96.3 L520.9,97.4 L521.9,98.6 L522.7,99.8 L523.6,101.0 L524.4,102.2 L525.1,103.5 L525.8,104.8 L526.5,106.2 L527.1,107.5 L527.9,108.8 L528.6,110.2 L529.3,111.5 L530.0,112.9 L530.7,114.3 L531.4,115.8 L532.0,117.2 L532.6,118.7 L533.2,120.2 L533.8,121.8 L534.4,123.3 L535.0,124.9 L535.6,126.5 L536.2,128.1 L536.8,129.8 L537.3,131.5 L537.9,133.3 L538.3,135.0 L538.7,136.8 L539.1,138.6 L539.3,140.5 L539.4,142.3 L539.5,144.2 L539.6,146.1 L539.6,148.0 L539.5,149.9 L539.3,151.8 L539.1,153.7 L538.7,155.5 L538.3,157.4 L537.7,159.2 L537.0,161.0 L536.2,162.7 L535.4,164.4 L534.4,166.0 L533.2,167.5 L532.0,169.0 L530.7,170.4 L529.3,171.7 L527.8,172.9 L526.2,174.0 L524.5,174.9 L522.8,175.8 L521.0,176.6 L519.3,177.4 L517.6,178.1 L515.9,178.8 L514.1,179.5 L512.4,180.1 L510.7,180.6 L509.0,181.1 L507.3,181.6 L505.5,182.0 L503.8,182.3 L502.1,182.7 L500.4,183.0 L498.8,183.3 L497.2,183.7 L495.6,184.0 L494.0,184.4 L492.4,184.7 L490.8,185.0 L489.3,185.3 L487.7,185.5 L486.1,185.6 L484.5,185.6 L482.9,185.5 L481.3,185.4 L479.7,185.2 L478.1,185.0 L476.6,184.7 L475.0,184.4 L473.5,184.1 L472.0,183.7 L470.5,183.4 L469.1,183.0 L467.6,182.5 L466.2,182.0 L464.8,181.5 L463.4,180.8 L462.1,180.1 L460.8,179.4 L459.5,178.6 L458.3,177.8 L457.1,177.0 L455.9,176.3 L454.7,175.5 L453.5,174.7 L452.4,173.9 L451.3,173.1 L450.1,172.4 L449.0,171.6 L447.9,170.8 L446.8,170.0 L445.8,169.2 L444.7,168.4 L443.7,167.6 L442.6,166.7 L441.6,165.9 L440.6,165.0 L439.6,164.2 L438.6,163.3 L437.7,162.3 L436.7,161.4 L435.8,160.4 L434.9,159.4 L434.1,158.4 L433.2,157.4 L432.3,156.4 L431.5,155.4 L430.6,154.3 L429.8,153.3 L429.0,152.2 L428.3,151.1 L427.5,149.9 L426.7,148.8 L426.0,147.6 L425.3,146.5 L424.6,145.3 L424.0,144.0 L423.3,142.8 L422.7,141.5 L422.1,140.3 L421.6,139.0 L421.1,137.6 L420.6,136.3 L420.1,135.0 L419.4,133.6 L418.6,132.3 L417.4,130.9 L416.0,129.5 L414.4,128.0Z" fill="#ff8107" stroke="#ff8107" stroke-width="0.4"/>
<path d="M416.9,126.5 L415.2,125.0 L413.5,123.4 L411.8,121.6 L409.9,119.8 L408.1,117.9 L406.3,115.9 L404.6,113.7 L403.1,111.5 L401.8,109.3 L400.7,107.0 L400.0,104.7 L399.6,102.5 L399.3,100.2 L399.1,97.9 L399.0,95.7 L399.0,93.4 L399.1,91.0 L399.1,88.6 L399.0,86.0 L398.8,83.4 L398.7,80.6 L398.6,77.9 L398.8,75.1 L399.2,72.5 L400.3,70.3 L402.3,68.8 L404.9,67.9 L407.8,67.4 L410.5,66.7 L412.8,65.8 L414.9,64.8 L417.2,63.9 L419.5,63.3 L422.0,62.9 L424.5,62.6 L427.0,62.4 L429.3,62.2 L431.6,62.0 L433.9,61.8 L436.1,61.7 L438.2,61.5 L440.3,61.3 L442.3,61.1 L444.3,60.9 L446.2,60.6 L448.1,60.4 L450.0,60.1 L451.8,59.8 L453.7,59.5 L455.5,59.2 L457.3,59.0 L459.1,58.8 L460.9,58.7 L462.8,58.7 L464.6,58.9 L466.4,59.3 L468.3,60.0 L470.1,61.0 L471.8,62.4 L473.5,63.9 L475.1,65.4 L476.6,66.5 L478.2,67.2 L479.7,67.8 L481.2,68.3 L482.6,68.8 L484.1,69.4 L485.5,70.0 L486.9,70.7 L488.3,71.4 L489.6,72.1 L490.9,72.9 L492.2,73.6 L493.5,74.4 L494.7,75.2 L496.0,76.1 L497.2,76.9 L498.3,77.8 L499.5,78.6 L500.6,79.5 L501.7,80.5 L502.8,81.4 L503.9,82.3 L504.9,83.3 L505.9,84.3 L506.8,85.3 L507.8,86.3 L508.7,87.4 L509.7,88.4 L510.6,89.4 L511.6,90.4 L512.5,91.4 L513.4,92.4 L514.3,93.4 L515.2,94.5 L516.1,95.6 L516.9,96.7 L517.8,97.8 L518.6,98.9 L519.4,100.0 L520.2,101.2 L520.9,102.3 L521.7,103.5 L522.4,104.7 L523.0,106.0 L523.7,107.2 L524.3,108.5 L525.0,109.8 L525.7,111.0 L526.3,112.3 L527.0,113.7 L527.6,115.0 L528.2,116.4 L528.8,117.7 L529.4,119.1 L529.9,120.6 L530.5,122.0 L531.1,123.5 L531.6,125.0 L532.2,126.5 L532.7,128.1 L533.2,129.6 L533.7,131.2 L534.2,132.9 L534.5,134.5 L534.8,136.2 L535.0,137.9 L535.1,139.6 L535.1,141.3 L535.1,143.0 L535.1,144.7 L535.1,146.5 L535.0,148.3 L535.0,150.1 L534.8,151.9 L534.5,153.7 L534.1,155.4 L533.7,157.2 L533.1,158.9 L532.5,160.6 L531.7,162.1 L530.7,163.7 L529.6,165.1 L528.5,166.4 L527.2,167.7 L525.9,168.9 L524.5,170.0 L523.0,171.0 L521.4,171.9 L519.8,172.8 L518.2,173.6 L516.5,174.3 L515.0,175.0 L513.4,175.7 L511.8,176.4 L510.2,177.0 L508.5,177.5 L506.9,178.0 L505.3,178.4 L503.6,178.7 L502.0,178.9 L500.3,179.2 L498.7,179.4 L497.2,179.7 L495.6,180.0 L494.1,180.3 L492.6,180.6 L491.2,180.8 L489.7,181.1 L488.2,181.3 L486.7,181.4 L485.2,181.5 L483.7,181.5 L482.2,181.4 L480.7,181.2 L479.2,181.1 L477.8,180.9 L476.3,180.6 L474.9,180.4 L473.5,180.1 L472.1,179.8 L470.7,179.5 L469.4,179.1 L468.0,178.8 L466.7,178.3 L465.4,177.9 L464.1,177.4 L462.8,176.8 L461.6,176.2 L460.4,175.6 L459.2,174.9 L458.0,174.2 L456.8,173.5 L455.7,172.8 L454.6,172.1 L453.5,171.4 L452.4,170.7 L451.3,170.0 L450.3,169.3 L449.2,168.6 L448.2,167.8 L447.2,167.0 L446.2,166.3 L445.2,165.5 L444.2,164.7 L443.2,163.9 L442.3,163.1 L441.3,162.2 L440.4,161.4 L439.5,160.5 L438.6,159.6 L437.8,158.7 L436.9,157.7 L436.1,156.8 L435.3,155.8 L434.5,154.8 L433.8,153.8 L433.0,152.8 L432.3,151.7 L431.6,150.7 L430.9,149.6 L430.2,148.6 L429.5,147.5 L428.9,146.4 L428.2,145.3 L427.6,144.1 L427.1,142.9 L426.5,141.8 L426.0,140.6 L425.6,139.3 L425.1,138.1 L424.7,136.9 L424.3,135.6 L423.9,134.4 L423.3,133.1 L422.4,131.9 L421.3,130.6 L419.9,129.3 L418.4,127.9Z" fill="#ffc10b" stroke="#ffc10b" stroke-width="0.4"/>
<path d="M420.6,126.5 L419.1,125.1 L417.5,123.6 L415.9,122.0 L414.2,120.3 L412.5,118.5 L410.8,116.6 L409.2,114.6 L407.7,112.5 L406.3,110.4 L405.3,108.2 L404.5,106.1 L404.0,103.9 L403.7,101.8 L403.5,99.6 L403.4,97.5 L403.4,95.3 L403.4,93.1 L403.4,90.8 L403.2,88.4 L403.1,85.8 L402.8,83.2 L402.7,80.5 L402.6,77.8 L402.7,75.1 L403.6,72.9 L405.5,71.4 L408.3,70.8 L411.3,70.5 L414.0,70.0 L416.2,69.2 L418.2,68.3 L420.3,67.4 L422.5,66.7 L424.7,66.3 L427.0,66.0 L429.3,65.7 L431.5,65.5 L433.7,65.2 L435.8,65.0 L437.9,64.8 L439.9,64.6 L441.9,64.5 L443.8,64.3 L445.7,64.1 L447.6,63.9 L449.3,63.6 L451.1,63.3 L452.9,63.0 L454.6,62.7 L456.3,62.4 L458.1,62.2 L459.8,62.0 L461.5,62.0 L463.3,62.1 L465.1,62.4 L466.8,62.9 L468.6,63.7 L470.3,64.9 L471.9,66.4 L473.5,68.1 L475.0,69.7 L476.4,70.8 L477.8,71.5 L479.2,71.9 L480.6,72.3 L482.0,72.7 L483.4,73.2 L484.7,73.7 L486.0,74.3 L487.3,74.9 L488.6,75.5 L489.8,76.2 L491.1,76.9 L492.3,77.6 L493.4,78.4 L494.6,79.1 L495.7,79.9 L496.8,80.7 L497.9,81.6 L498.9,82.4 L500.0,83.3 L501.0,84.2 L502.0,85.1 L502.9,86.0 L503.9,86.9 L504.8,87.8 L505.7,88.8 L506.6,89.7 L507.5,90.7 L508.4,91.6 L509.3,92.5 L510.2,93.5 L511.1,94.4 L511.9,95.4 L512.8,96.4 L513.6,97.4 L514.4,98.4 L515.2,99.4 L515.9,100.5 L516.6,101.6 L517.3,102.7 L518.0,103.8 L518.7,104.9 L519.4,106.1 L520.0,107.2 L520.6,108.4 L521.3,109.6 L521.9,110.8 L522.5,112.0 L523.1,113.2 L523.7,114.4 L524.3,115.7 L524.8,117.0 L525.4,118.3 L525.9,119.6 L526.4,120.9 L526.9,122.3 L527.4,123.7 L527.9,125.1 L528.4,126.5 L528.9,128.0 L529.4,129.4 L529.8,130.9 L530.2,132.5 L530.5,134.0 L530.6,135.5 L530.7,137.1 L530.7,138.7 L530.6,140.2 L530.6,141.8 L530.5,143.4 L530.5,145.0 L530.5,146.7 L530.4,148.3 L530.3,150.0 L530.0,151.7 L529.7,153.3 L529.4,155.0 L528.9,156.6 L528.3,158.2 L527.6,159.6 L526.7,161.0 L525.7,162.4 L524.6,163.6 L523.4,164.8 L522.1,165.9 L520.8,166.9 L519.4,167.8 L518.0,168.7 L516.5,169.5 L515.0,170.3 L513.6,171.0 L512.1,171.7 L510.7,172.4 L509.2,173.0 L507.7,173.6 L506.2,174.1 L504.7,174.6 L503.2,174.9 L501.6,175.2 L500.1,175.4 L498.5,175.6 L497.0,175.8 L495.6,176.0 L494.1,176.3 L492.7,176.5 L491.3,176.8 L489.9,177.0 L488.5,177.2 L487.1,177.4 L485.7,177.5 L484.3,177.5 L482.9,177.5 L481.6,177.4 L480.2,177.3 L478.8,177.1 L477.5,176.9 L476.1,176.7 L474.8,176.5 L473.5,176.3 L472.2,176.0 L470.9,175.7 L469.6,175.4 L468.4,175.1 L467.1,174.8 L465.9,174.4 L464.7,174.0 L463.5,173.5 L462.3,173.0 L461.2,172.5 L460.0,171.9 L458.9,171.4 L457.8,170.8 L456.7,170.1 L455.7,169.5 L454.6,168.9 L453.6,168.2 L452.6,167.6 L451.6,166.9 L450.6,166.2 L449.6,165.5 L448.6,164.8 L447.7,164.1 L446.8,163.3 L445.8,162.5 L444.9,161.8 L444.0,161.0 L443.2,160.2 L442.3,159.4 L441.4,158.6 L440.6,157.7 L439.8,156.8 L439.0,155.9 L438.3,155.0 L437.5,154.1 L436.8,153.2 L436.1,152.2 L435.4,151.2 L434.8,150.2 L434.1,149.2 L433.5,148.2 L432.8,147.2 L432.2,146.2 L431.6,145.2 L431.0,144.1 L430.5,143.0 L430.0,141.9 L429.6,140.8 L429.1,139.6 L428.7,138.5 L428.3,137.3 L428.0,136.2 L427.6,135.0 L427.2,133.8 L426.6,132.7 L425.8,131.5 L424.7,130.3 L423.4,129.1 L422.0,127.8Z" fill="#ffda00" stroke="#ffda00" stroke-width="0.4"/>
<path d="M424.1,126.5 L422.8,125.2 L421.4,123.8 L420.0,122.3 L418.6,120.7 L417.1,119.1 L415.7,117.3 L414.3,115.5 L412.9,113.6 L411.7,111.7 L410.7,109.7 L410.0,107.7 L409.5,105.7 L409.1,103.7 L408.9,101.7 L408.8,99.7 L408.8,97.7 L408.8,95.6 L408.8,93.5 L408.7,91.3 L408.7,89.1 L408.6,86.7 L408.5,84.3 L408.4,81.8 L408.5,79.3 L409.3,77.2 L411.0,75.9 L413.6,75.3 L416.4,75.1 L418.9,74.7 L420.9,73.9 L422.8,73.0 L424.6,72.2 L426.6,71.6 L428.6,71.1 L430.7,70.7 L432.8,70.4 L434.8,70.2 L436.7,69.9 L438.7,69.7 L440.6,69.5 L442.5,69.3 L444.3,69.2 L446.1,69.1 L447.9,69.0 L449.6,68.8 L451.3,68.6 L452.9,68.3 L454.5,68.1 L456.1,67.9 L457.8,67.7 L459.4,67.6 L461.0,67.6 L462.6,67.7 L464.2,67.9 L465.8,68.2 L467.4,68.8 L469.0,69.6 L470.6,70.7 L472.1,72.1 L473.5,73.7 L474.8,75.1 L476.1,76.1 L477.4,76.7 L478.7,77.1 L480.0,77.5 L481.2,77.9 L482.4,78.3 L483.7,78.7 L484.8,79.2 L486.0,79.8 L487.2,80.4 L488.3,81.0 L489.4,81.6 L490.5,82.3 L491.5,82.9 L492.6,83.7 L493.6,84.4 L494.6,85.1 L495.6,85.9 L496.5,86.6 L497.5,87.4 L498.4,88.2 L499.3,88.9 L500.2,89.8 L501.1,90.6 L501.9,91.4 L502.8,92.2 L503.6,93.1 L504.4,93.9 L505.3,94.7 L506.1,95.5 L506.9,96.4 L507.8,97.2 L508.6,98.1 L509.4,99.0 L510.2,99.8 L511.0,100.7 L511.7,101.7 L512.4,102.6 L513.1,103.6 L513.8,104.6 L514.5,105.6 L515.1,106.6 L515.8,107.7 L516.4,108.7 L517.0,109.8 L517.6,110.9 L518.1,112.0 L518.7,113.1 L519.3,114.2 L519.8,115.4 L520.3,116.5 L520.8,117.7 L521.3,118.9 L521.8,120.1 L522.3,121.4 L522.7,122.6 L523.2,123.9 L523.6,125.2 L524.0,126.5 L524.4,127.8 L524.8,129.2 L525.2,130.6 L525.5,132.0 L525.7,133.4 L525.8,134.8 L525.8,136.2 L525.8,137.6 L525.7,139.0 L525.6,140.5 L525.6,141.9 L525.5,143.4 L525.4,144.9 L525.3,146.4 L525.1,147.9 L524.9,149.4 L524.6,150.9 L524.2,152.3 L523.8,153.8 L523.2,155.2 L522.5,156.6 L521.7,157.8 L520.8,159.0 L519.8,160.1 L518.7,161.2 L517.5,162.2 L516.3,163.1 L515.1,164.0 L513.9,164.8 L512.6,165.6 L511.3,166.3 L510.0,167.1 L508.7,167.8 L507.4,168.4 L506.2,169.1 L504.8,169.6 L503.5,170.2 L502.1,170.6 L500.8,171.0 L499.4,171.3 L497.9,171.5 L496.6,171.7 L495.2,172.0 L493.8,172.2 L492.5,172.5 L491.2,172.7 L489.9,172.9 L488.7,173.2 L487.4,173.3 L486.1,173.5 L484.8,173.6 L483.5,173.6 L482.2,173.6 L480.9,173.5 L479.7,173.4 L478.4,173.3 L477.2,173.1 L475.9,173.0 L474.7,172.8 L473.5,172.6 L472.3,172.3 L471.1,172.1 L469.9,171.8 L468.8,171.5 L467.6,171.2 L466.5,170.9 L465.3,170.5 L464.2,170.2 L463.1,169.7 L462.0,169.3 L461.0,168.8 L459.9,168.3 L458.9,167.8 L457.9,167.2 L456.9,166.6 L455.9,166.1 L454.9,165.5 L454.0,164.8 L453.0,164.2 L452.1,163.6 L451.2,162.9 L450.3,162.3 L449.4,161.6 L448.5,160.9 L447.7,160.2 L446.8,159.5 L446.0,158.7 L445.2,158.0 L444.3,157.2 L443.5,156.5 L442.8,155.7 L442.0,154.8 L441.3,154.0 L440.6,153.2 L439.9,152.3 L439.2,151.4 L438.6,150.5 L437.9,149.6 L437.3,148.7 L436.7,147.7 L436.1,146.8 L435.5,145.9 L434.9,144.9 L434.4,143.9 L433.9,142.9 L433.4,141.9 L432.9,140.9 L432.5,139.8 L432.1,138.8 L431.7,137.7 L431.3,136.6 L430.9,135.6 L430.5,134.5 L430.1,133.4 L429.5,132.3 L428.7,131.2 L427.7,130.1 L426.6,129.0 L425.3,127.8Z" fill="#fff300" stroke="#fff300" stroke-width="0.4"/>
<path d="M427.4,126.5 L426.3,125.3 L425.2,124.0 L424.1,122.6 L423.0,121.2 L421.8,119.7 L420.7,118.1 L419.6,116.5 L418.5,114.8 L417.6,113.1 L416.7,111.3 L416.0,109.5 L415.5,107.7 L415.1,105.8 L414.9,104.0 L414.8,102.2 L414.8,100.4 L414.8,98.5 L414.9,96.6 L414.9,94.7 L415.1,92.8 L415.3,90.8 L415.5,88.8 L415.8,86.8 L416.2,84.9 L417.0,83.1 L418.4,81.9 L420.5,81.2 L422.7,80.8 L424.8,80.2 L426.5,79.5 L428.2,78.7 L429.8,78.0 L431.6,77.4 L433.3,76.9 L435.2,76.5 L437.0,76.2 L438.8,76.0 L440.5,75.7 L442.3,75.5 L444.0,75.4 L445.7,75.3 L447.4,75.2 L449.0,75.1 L450.6,75.1 L452.2,75.0 L453.7,75.0 L455.2,74.9 L456.7,74.9 L458.2,74.9 L459.7,74.9 L461.1,75.0 L462.6,75.1 L464.0,75.3 L465.4,75.6 L466.9,76.0 L468.2,76.5 L469.6,77.2 L471.0,78.0 L472.3,79.1 L473.5,80.3 L474.7,81.3 L475.8,82.1 L476.9,82.7 L478.1,83.1 L479.2,83.5 L480.2,83.9 L481.3,84.3 L482.4,84.8 L483.4,85.3 L484.4,85.8 L485.4,86.3 L486.4,86.9 L487.3,87.4 L488.3,88.0 L489.2,88.7 L490.1,89.3 L491.0,89.9 L491.8,90.5 L492.7,91.2 L493.5,91.8 L494.4,92.4 L495.2,93.0 L496.1,93.7 L496.9,94.3 L497.7,95.0 L498.4,95.7 L499.2,96.4 L500.0,97.1 L500.7,97.8 L501.5,98.5 L502.2,99.2 L503.0,99.9 L503.8,100.6 L504.6,101.3 L505.4,102.1 L506.2,102.8 L506.9,103.5 L507.7,104.3 L508.4,105.1 L509.1,105.9 L509.8,106.8 L510.5,107.7 L511.1,108.6 L511.7,109.5 L512.3,110.4 L512.9,111.4 L513.5,112.4 L514.0,113.3 L514.5,114.3 L515.1,115.4 L515.6,116.4 L516.0,117.5 L516.5,118.5 L516.9,119.6 L517.4,120.7 L517.8,121.8 L518.2,123.0 L518.5,124.1 L518.9,125.3 L519.3,126.5 L519.6,127.7 L519.9,128.9 L520.2,130.2 L520.4,131.4 L520.5,132.7 L520.6,134.0 L520.7,135.2 L520.7,136.5 L520.6,137.8 L520.5,139.1 L520.4,140.4 L520.3,141.7 L520.1,143.0 L519.9,144.3 L519.6,145.6 L519.3,146.9 L519.0,148.2 L518.6,149.5 L518.1,150.7 L517.6,151.9 L516.9,153.1 L516.2,154.2 L515.3,155.3 L514.4,156.2 L513.5,157.2 L512.5,158.0 L511.4,158.9 L510.4,159.7 L509.3,160.5 L508.3,161.3 L507.2,162.0 L506.1,162.7 L505.0,163.4 L503.9,164.0 L502.8,164.7 L501.7,165.3 L500.5,165.8 L499.3,166.3 L498.1,166.7 L496.9,167.1 L495.7,167.4 L494.5,167.7 L493.3,168.0 L492.1,168.2 L490.9,168.5 L489.7,168.8 L488.6,169.0 L487.4,169.2 L486.2,169.4 L485.0,169.6 L483.9,169.7 L482.7,169.7 L481.5,169.7 L480.3,169.7 L479.2,169.6 L478.0,169.5 L476.9,169.4 L475.7,169.2 L474.6,169.1 L473.5,168.9 L472.4,168.7 L471.3,168.5 L470.2,168.2 L469.1,168.0 L468.1,167.7 L467.0,167.4 L466.0,167.1 L464.9,166.8 L463.9,166.4 L462.9,166.0 L461.9,165.6 L460.9,165.2 L460.0,164.7 L459.0,164.2 L458.1,163.6 L457.2,163.1 L456.3,162.5 L455.4,162.0 L454.5,161.4 L453.7,160.8 L452.8,160.2 L452.0,159.6 L451.2,159.0 L450.4,158.3 L449.6,157.7 L448.8,157.0 L448.0,156.3 L447.2,155.7 L446.5,155.0 L445.8,154.2 L445.0,153.5 L444.3,152.8 L443.6,152.0 L443.0,151.2 L442.3,150.4 L441.7,149.6 L441.1,148.8 L440.5,148.0 L439.9,147.1 L439.3,146.2 L438.7,145.4 L438.2,144.5 L437.7,143.6 L437.1,142.7 L436.7,141.8 L436.2,140.8 L435.7,139.9 L435.3,138.9 L434.9,137.9 L434.5,137.0 L434.1,136.0 L433.7,135.0 L433.2,134.0 L432.8,133.0 L432.2,131.9 L431.4,130.9 L430.5,129.9 L429.5,128.8 L428.4,127.7Z" fill="#dbff20" stroke="#dbff20" stroke-width="0.4"/>
<path d="M430.3,126.5 L429.4,125.3 L428.6,124.1 L427.8,122.9 L426.9,121.6 L426.1,120.3 L425.3,118.9 L424.5,117.4 L423.8,115.9 L423.0,114.4 L422.4,112.8 L421.8,111.2 L421.3,109.5 L420.9,107.9 L420.7,106.2 L420.6,104.6 L420.6,102.9 L420.6,101.3 L420.8,99.6 L421.0,98.0 L421.4,96.4 L421.9,94.9 L422.5,93.3 L423.1,91.9 L423.9,90.4 L424.8,89.1 L426.0,88.0 L427.4,87.2 L429.0,86.4 L430.6,85.7 L432.0,85.0 L433.5,84.4 L435.0,83.7 L436.5,83.2 L438.0,82.7 L439.6,82.3 L441.2,82.0 L442.8,81.8 L444.3,81.5 L445.9,81.4 L447.4,81.3 L448.9,81.2 L450.4,81.1 L451.9,81.1 L453.3,81.2 L454.7,81.2 L456.1,81.3 L457.5,81.4 L458.9,81.5 L460.2,81.7 L461.5,81.9 L462.8,82.1 L464.1,82.4 L465.4,82.7 L466.6,83.0 L467.8,83.4 L469.0,83.9 L470.2,84.4 L471.3,85.0 L472.4,85.6 L473.5,86.3 L474.5,86.9 L475.5,87.5 L476.5,88.0 L477.5,88.5 L478.4,89.0 L479.4,89.4 L480.3,89.9 L481.2,90.3 L482.1,90.8 L482.9,91.3 L483.8,91.8 L484.6,92.3 L485.4,92.8 L486.2,93.3 L487.0,93.9 L487.8,94.4 L488.6,94.9 L489.3,95.5 L490.1,96.0 L490.8,96.5 L491.6,97.0 L492.4,97.5 L493.1,98.0 L493.8,98.5 L494.6,99.1 L495.3,99.6 L496.0,100.2 L496.6,100.8 L497.3,101.4 L498.0,102.0 L498.6,102.6 L499.3,103.2 L500.1,103.8 L500.8,104.4 L501.6,105.0 L502.4,105.5 L503.1,106.1 L503.9,106.8 L504.7,107.4 L505.4,108.1 L506.0,108.8 L506.7,109.6 L507.3,110.4 L507.9,111.2 L508.5,112.0 L509.0,112.9 L509.6,113.7 L510.1,114.6 L510.6,115.5 L511.1,116.4 L511.5,117.4 L512.0,118.3 L512.4,119.3 L512.8,120.3 L513.1,121.3 L513.5,122.3 L513.8,123.3 L514.2,124.4 L514.5,125.4 L514.7,126.5 L515.0,127.6 L515.2,128.7 L515.4,129.8 L515.6,130.9 L515.7,132.1 L515.8,133.2 L515.8,134.3 L515.9,135.5 L515.8,136.7 L515.8,137.8 L515.6,139.0 L515.4,140.1 L515.2,141.3 L514.9,142.4 L514.5,143.5 L514.1,144.6 L513.7,145.7 L513.3,146.8 L512.8,147.8 L512.3,148.9 L511.7,149.9 L511.0,150.8 L510.2,151.8 L509.4,152.6 L508.6,153.4 L507.7,154.2 L506.9,155.0 L506.0,155.8 L505.1,156.5 L504.2,157.2 L503.3,157.9 L502.4,158.6 L501.5,159.3 L500.6,159.9 L499.6,160.6 L498.7,161.1 L497.7,161.7 L496.7,162.2 L495.7,162.7 L494.6,163.1 L493.6,163.5 L492.5,163.9 L491.5,164.2 L490.4,164.5 L489.4,164.8 L488.3,165.1 L487.3,165.3 L486.2,165.6 L485.1,165.7 L484.1,165.9 L483.0,166.0 L481.9,166.1 L480.8,166.1 L479.8,166.1 L478.7,166.1 L477.7,166.0 L476.6,165.9 L475.6,165.8 L474.5,165.6 L473.5,165.4 L472.5,165.3 L471.5,165.1 L470.5,164.8 L469.5,164.6 L468.5,164.4 L467.5,164.1 L466.6,163.9 L465.6,163.6 L464.7,163.3 L463.7,162.9 L462.8,162.5 L461.9,162.1 L461.0,161.7 L460.2,161.2 L459.3,160.7 L458.5,160.2 L457.6,159.7 L456.8,159.2 L456.0,158.7 L455.2,158.2 L454.4,157.6 L453.7,157.1 L452.9,156.5 L452.1,155.9 L451.4,155.3 L450.7,154.7 L450.0,154.1 L449.3,153.4 L448.6,152.8 L447.9,152.1 L447.2,151.5 L446.5,150.8 L445.9,150.1 L445.3,149.4 L444.6,148.6 L444.0,147.9 L443.4,147.2 L442.9,146.4 L442.3,145.6 L441.7,144.8 L441.2,144.0 L440.7,143.2 L440.2,142.4 L439.7,141.5 L439.2,140.7 L438.8,139.8 L438.3,139.0 L437.9,138.1 L437.4,137.2 L437.0,136.3 L436.6,135.4 L436.1,134.4 L435.7,133.5 L435.1,132.6 L434.5,131.6 L433.8,130.7 L433.0,129.7 L432.1,128.7 L431.2,127.6Z" fill="#a9ff2c" stroke="#a9ff2c" stroke-width="0.4"/>
<path d="M432.8,126.5 L432.1,125.4 L431.4,124.3 L430.7,123.1 L430.1,121.9 L429.5,120.7 L429.0,119.4 L428.4,118.1 L427.9,116.8 L427.4,115.4 L426.9,114.0 L426.4,112.5 L426.0,111.1 L425.7,109.6 L425.5,108.1 L425.5,106.6 L425.5,105.1 L425.6,103.6 L425.8,102.2 L426.1,100.8 L426.6,99.4 L427.3,98.2 L428.0,97.0 L428.9,95.8 L429.8,94.8 L430.8,93.7 L431.8,92.7 L432.9,91.8 L434.0,91.0 L435.3,90.2 L436.5,89.5 L437.8,88.9 L439.1,88.3 L440.5,87.8 L441.8,87.4 L443.2,87.0 L444.6,86.7 L445.9,86.4 L447.3,86.2 L448.7,86.0 L450.1,85.9 L451.4,85.8 L452.7,85.8 L454.1,85.7 L455.4,85.8 L456.7,85.9 L457.9,86.0 L459.2,86.1 L460.4,86.3 L461.7,86.5 L462.9,86.8 L464.0,87.0 L465.2,87.3 L466.3,87.6 L467.4,88.0 L468.5,88.3 L469.5,88.7 L470.6,89.0 L471.6,89.4 L472.5,89.8 L473.5,90.2 L474.4,90.6 L475.4,91.1 L476.3,91.5 L477.1,92.0 L478.0,92.4 L478.8,92.9 L479.7,93.3 L480.5,93.8 L481.3,94.2 L482.0,94.6 L482.8,95.1 L483.6,95.5 L484.3,96.0 L485.0,96.5 L485.7,97.0 L486.4,97.5 L487.1,97.9 L487.8,98.4 L488.5,98.9 L489.2,99.3 L489.9,99.7 L490.6,100.2 L491.3,100.6 L491.9,101.1 L492.6,101.6 L493.3,102.1 L493.9,102.6 L494.5,103.2 L495.1,103.7 L495.7,104.3 L496.3,104.9 L496.9,105.4 L497.6,105.9 L498.3,106.4 L499.0,106.9 L499.7,107.4 L500.4,108.0 L501.2,108.5 L501.9,109.1 L502.5,109.7 L503.2,110.4 L503.8,111.1 L504.3,111.8 L504.9,112.5 L505.4,113.3 L506.0,114.0 L506.5,114.8 L506.9,115.6 L507.4,116.5 L507.9,117.3 L508.3,118.2 L508.7,119.0 L509.0,119.9 L509.4,120.8 L509.7,121.7 L510.0,122.7 L510.3,123.6 L510.6,124.6 L510.8,125.5 L511.1,126.5 L511.3,127.5 L511.4,128.5 L511.6,129.5 L511.7,130.5 L511.8,131.5 L511.9,132.6 L511.9,133.6 L512.0,134.7 L512.0,135.7 L511.9,136.8 L511.7,137.8 L511.5,138.9 L511.2,139.9 L510.9,140.9 L510.5,141.8 L510.1,142.8 L509.7,143.8 L509.2,144.7 L508.8,145.6 L508.2,146.6 L507.7,147.4 L507.1,148.3 L506.4,149.1 L505.7,149.9 L505.0,150.6 L504.2,151.4 L503.5,152.1 L502.7,152.8 L502.0,153.5 L501.2,154.2 L500.4,154.9 L499.6,155.5 L498.8,156.2 L498.0,156.8 L497.2,157.4 L496.3,157.9 L495.5,158.5 L494.6,159.0 L493.7,159.4 L492.8,159.9 L491.9,160.3 L490.9,160.7 L490.0,161.1 L489.0,161.4 L488.1,161.7 L487.1,162.0 L486.2,162.2 L485.2,162.4 L484.2,162.6 L483.2,162.7 L482.2,162.8 L481.2,162.9 L480.3,163.0 L479.3,163.0 L478.3,163.0 L477.3,162.9 L476.4,162.9 L475.4,162.8 L474.4,162.6 L473.5,162.5 L472.6,162.3 L471.6,162.1 L470.7,161.9 L469.8,161.7 L468.9,161.5 L468.0,161.3 L467.1,161.1 L466.2,160.8 L465.3,160.5 L464.5,160.2 L463.6,159.9 L462.8,159.5 L462.0,159.1 L461.1,158.7 L460.4,158.2 L459.6,157.8 L458.8,157.3 L458.0,156.8 L457.3,156.4 L456.5,155.9 L455.8,155.4 L455.1,154.9 L454.4,154.4 L453.7,153.8 L453.0,153.3 L452.3,152.7 L451.6,152.1 L451.0,151.5 L450.3,150.9 L449.7,150.3 L449.1,149.7 L448.4,149.1 L447.8,148.4 L447.2,147.8 L446.6,147.1 L446.1,146.4 L445.5,145.7 L444.9,145.0 L444.4,144.3 L443.9,143.6 L443.4,142.9 L442.9,142.1 L442.4,141.3 L441.9,140.6 L441.4,139.8 L440.9,139.0 L440.5,138.2 L440.0,137.4 L439.6,136.6 L439.1,135.7 L438.6,134.9 L438.2,134.0 L437.7,133.1 L437.2,132.3 L436.6,131.4 L435.9,130.5 L435.2,129.5 L434.4,128.6 L433.6,127.5Z" fill="#7ef804" stroke="#7ef804" stroke-width="0.4"/>
<path d="M434.7,126.5 L434.1,125.5 L433.5,124.4 L432.9,123.3 L432.4,122.2 L431.9,121.0 L431.5,119.8 L431.1,118.6 L430.7,117.4 L430.4,116.1 L430.0,114.8 L429.7,113.5 L429.4,112.2 L429.3,110.8 L429.2,109.5 L429.2,108.1 L429.3,106.8 L429.4,105.5 L429.7,104.2 L430.1,102.9 L430.6,101.7 L431.3,100.6 L432.0,99.6 L432.9,98.6 L433.8,97.6 L434.7,96.7 L435.6,95.8 L436.6,95.0 L437.6,94.2 L438.7,93.4 L439.8,92.8 L441.0,92.2 L442.1,91.7 L443.3,91.2 L444.5,90.7 L445.7,90.3 L447.0,90.0 L448.2,89.7 L449.4,89.4 L450.7,89.2 L451.9,89.1 L453.1,88.9 L454.3,88.8 L455.5,88.8 L456.7,88.8 L457.9,88.8 L459.1,88.9 L460.2,89.0 L461.3,89.1 L462.5,89.3 L463.6,89.4 L464.6,89.6 L465.7,89.8 L466.7,90.1 L467.8,90.3 L468.8,90.6 L469.8,90.9 L470.7,91.2 L471.7,91.5 L472.6,91.8 L473.5,92.1 L474.4,92.4 L475.3,92.8 L476.1,93.2 L477.0,93.6 L477.8,94.0 L478.6,94.4 L479.4,94.8 L480.2,95.2 L480.9,95.6 L481.7,96.0 L482.4,96.4 L483.1,96.8 L483.9,97.3 L484.6,97.7 L485.2,98.2 L485.9,98.6 L486.6,99.1 L487.3,99.5 L487.9,100.0 L488.6,100.4 L489.2,100.8 L489.9,101.3 L490.5,101.7 L491.1,102.2 L491.8,102.7 L492.4,103.2 L493.0,103.7 L493.5,104.3 L494.1,104.8 L494.6,105.4 L495.2,105.9 L495.8,106.4 L496.4,107.0 L497.0,107.5 L497.6,108.0 L498.2,108.5 L498.9,109.1 L499.5,109.6 L500.1,110.2 L500.7,110.8 L501.3,111.4 L501.8,112.1 L502.4,112.7 L502.9,113.4 L503.3,114.1 L503.8,114.9 L504.3,115.6 L504.7,116.4 L505.1,117.1 L505.5,117.9 L505.9,118.7 L506.3,119.5 L506.6,120.4 L506.9,121.2 L507.2,122.1 L507.5,122.9 L507.7,123.8 L508.0,124.7 L508.2,125.6 L508.4,126.5 L508.5,127.4 L508.7,128.3 L508.8,129.3 L508.9,130.2 L509.0,131.2 L509.0,132.1 L509.1,133.1 L509.1,134.1 L509.1,135.0 L509.0,136.0 L508.8,137.0 L508.6,137.9 L508.3,138.8 L508.0,139.8 L507.7,140.7 L507.3,141.6 L506.9,142.4 L506.5,143.3 L506.0,144.2 L505.5,145.0 L505.0,145.8 L504.5,146.6 L503.9,147.4 L503.2,148.1 L502.6,148.8 L501.9,149.5 L501.2,150.2 L500.6,150.9 L499.9,151.5 L499.2,152.2 L498.5,152.8 L497.8,153.5 L497.1,154.1 L496.3,154.7 L495.5,155.2 L494.7,155.7 L493.9,156.2 L493.1,156.7 L492.3,157.2 L491.4,157.6 L490.6,158.0 L489.7,158.4 L488.9,158.7 L488.0,159.0 L487.1,159.3 L486.2,159.5 L485.3,159.7 L484.4,159.9 L483.4,160.1 L482.5,160.2 L481.6,160.3 L480.7,160.4 L479.8,160.4 L478.9,160.5 L478.0,160.5 L477.1,160.4 L476.2,160.4 L475.3,160.3 L474.4,160.1 L473.5,160.0 L472.6,159.9 L471.8,159.7 L470.9,159.5 L470.0,159.3 L469.2,159.1 L468.4,158.9 L467.5,158.7 L466.7,158.4 L465.9,158.2 L465.1,157.9 L464.3,157.6 L463.5,157.3 L462.7,156.9 L462.0,156.6 L461.2,156.2 L460.5,155.8 L459.7,155.3 L459.0,154.9 L458.3,154.5 L457.6,154.0 L456.9,153.6 L456.2,153.1 L455.6,152.6 L454.9,152.1 L454.2,151.6 L453.6,151.1 L453.0,150.5 L452.4,150.0 L451.8,149.4 L451.2,148.8 L450.6,148.2 L450.0,147.7 L449.4,147.0 L448.9,146.4 L448.3,145.8 L447.8,145.2 L447.2,144.5 L446.7,143.9 L446.2,143.2 L445.7,142.6 L445.1,141.9 L444.6,141.2 L444.1,140.5 L443.6,139.8 L443.1,139.1 L442.7,138.3 L442.2,137.6 L441.7,136.8 L441.2,136.1 L440.7,135.3 L440.3,134.5 L439.8,133.7 L439.3,132.8 L438.8,132.0 L438.2,131.1 L437.5,130.3 L436.8,129.4 L436.1,128.5 L435.4,127.5Z" fill="#6ad800" stroke="#6ad800" stroke-width="0.4"/>
<path d="M436.2,126.5 L435.6,125.5 L435.1,124.5 L434.6,123.4 L434.2,122.4 L433.8,121.3 L433.5,120.2 L433.2,119.0 L433.0,117.9 L432.7,116.7 L432.5,115.5 L432.4,114.3 L432.2,113.1 L432.2,111.9 L432.2,110.7 L432.3,109.5 L432.5,108.3 L432.8,107.1 L433.1,105.9 L433.5,104.8 L434.0,103.7 L434.7,102.7 L435.4,101.8 L436.2,100.9 L437.0,100.0 L437.9,99.2 L438.7,98.4 L439.6,97.6 L440.6,96.8 L441.5,96.2 L442.6,95.6 L443.6,95.0 L444.7,94.5 L445.7,94.0 L446.8,93.5 L447.9,93.1 L449.0,92.7 L450.1,92.4 L451.2,92.1 L452.3,91.9 L453.4,91.7 L454.5,91.5 L455.6,91.3 L456.7,91.2 L457.8,91.2 L458.8,91.1 L459.9,91.1 L461.0,91.2 L462.0,91.2 L463.1,91.3 L464.1,91.4 L465.1,91.5 L466.1,91.6 L467.1,91.8 L468.0,92.0 L469.0,92.2 L469.9,92.4 L470.8,92.6 L471.7,92.9 L472.6,93.1 L473.5,93.4 L474.4,93.7 L475.2,94.0 L476.0,94.3 L476.8,94.7 L477.6,95.0 L478.4,95.4 L479.2,95.7 L480.0,96.1 L480.7,96.5 L481.4,96.9 L482.2,97.3 L482.9,97.7 L483.6,98.1 L484.3,98.5 L484.9,98.9 L485.6,99.3 L486.2,99.8 L486.9,100.2 L487.5,100.6 L488.2,101.1 L488.8,101.5 L489.4,102.0 L490.0,102.5 L490.6,102.9 L491.2,103.4 L491.8,103.9 L492.3,104.5 L492.9,105.0 L493.4,105.5 L493.9,106.1 L494.4,106.6 L495.0,107.2 L495.5,107.7 L496.0,108.2 L496.6,108.8 L497.2,109.3 L497.7,109.9 L498.3,110.4 L498.8,111.0 L499.3,111.6 L499.8,112.2 L500.3,112.8 L500.8,113.5 L501.2,114.2 L501.7,114.8 L502.1,115.5 L502.5,116.2 L502.9,117.0 L503.3,117.7 L503.6,118.4 L504.0,119.2 L504.3,120.0 L504.6,120.7 L504.9,121.5 L505.1,122.3 L505.4,123.2 L505.6,124.0 L505.8,124.8 L506.0,125.6 L506.1,126.5 L506.3,127.4 L506.4,128.2 L506.5,129.1 L506.6,130.0 L506.6,130.9 L506.7,131.8 L506.7,132.6 L506.7,133.6 L506.6,134.5 L506.6,135.4 L506.4,136.3 L506.2,137.1 L506.0,138.0 L505.7,138.9 L505.4,139.7 L505.0,140.5 L504.7,141.4 L504.3,142.2 L503.8,143.0 L503.4,143.8 L502.9,144.5 L502.4,145.3 L501.9,146.0 L501.3,146.7 L500.7,147.4 L500.1,148.0 L499.5,148.7 L498.9,149.4 L498.3,150.0 L497.6,150.6 L497.0,151.2 L496.3,151.8 L495.6,152.4 L494.9,153.0 L494.2,153.5 L493.5,154.0 L492.7,154.5 L491.9,154.9 L491.2,155.3 L490.4,155.7 L489.5,156.1 L488.7,156.4 L487.9,156.7 L487.1,157.0 L486.2,157.2 L485.4,157.4 L484.5,157.6 L483.7,157.8 L482.8,157.9 L481.9,158.0 L481.1,158.1 L480.2,158.2 L479.4,158.2 L478.5,158.3 L477.7,158.3 L476.8,158.2 L476.0,158.2 L475.2,158.1 L474.3,158.0 L473.5,157.9 L472.7,157.7 L471.9,157.6 L471.1,157.4 L470.3,157.2 L469.5,157.0 L468.7,156.8 L467.9,156.6 L467.2,156.3 L466.4,156.1 L465.6,155.8 L464.9,155.6 L464.1,155.3 L463.4,155.0 L462.7,154.7 L462.0,154.3 L461.3,153.9 L460.6,153.6 L459.9,153.2 L459.2,152.8 L458.6,152.4 L457.9,152.0 L457.2,151.5 L456.6,151.1 L456.0,150.6 L455.4,150.1 L454.8,149.6 L454.2,149.1 L453.6,148.6 L453.0,148.1 L452.5,147.5 L451.9,147.0 L451.4,146.4 L450.9,145.8 L450.3,145.2 L449.8,144.7 L449.3,144.1 L448.8,143.5 L448.3,142.9 L447.8,142.3 L447.2,141.7 L446.7,141.1 L446.2,140.4 L445.6,139.8 L445.1,139.1 L444.6,138.5 L444.1,137.8 L443.6,137.1 L443.0,136.4 L442.5,135.7 L442.0,134.9 L441.6,134.2 L441.1,133.4 L440.6,132.6 L440.1,131.8 L439.5,131.0 L438.9,130.1 L438.2,129.3 L437.5,128.4 L436.9,127.5Z" fill="#33e800" stroke="#33e800" stroke-width="0.4"/>
<path d="M437.8,126.5 L437.2,125.6 L436.7,124.6 L436.3,123.6 L435.9,122.6 L435.6,121.5 L435.4,120.5 L435.3,119.4 L435.1,118.3 L435.0,117.3 L435.0,116.2 L435.0,115.1 L435.0,114.0 L435.1,112.9 L435.2,111.8 L435.4,110.7 L435.6,109.6 L435.9,108.6 L436.3,107.6 L436.8,106.6 L437.3,105.6 L437.9,104.7 L438.5,103.8 L439.2,103.0 L440.0,102.2 L440.8,101.4 L441.6,100.7 L442.5,100.0 L443.3,99.3 L444.2,98.7 L445.1,98.1 L446.1,97.6 L447.0,97.1 L448.0,96.6 L448.9,96.1 L449.9,95.7 L450.8,95.3 L451.8,95.0 L452.8,94.6 L453.8,94.4 L454.8,94.1 L455.8,93.9 L456.8,93.7 L457.8,93.5 L458.8,93.4 L459.7,93.3 L460.7,93.2 L461.7,93.2 L462.7,93.2 L463.6,93.2 L464.6,93.2 L465.5,93.2 L466.4,93.3 L467.4,93.4 L468.3,93.5 L469.2,93.6 L470.1,93.8 L470.9,94.0 L471.8,94.1 L472.7,94.3 L473.5,94.6 L474.3,94.8 L475.1,95.1 L476.0,95.4 L476.7,95.7 L477.5,96.0 L478.3,96.3 L479.0,96.6 L479.8,97.0 L480.5,97.3 L481.2,97.7 L481.9,98.0 L482.6,98.4 L483.3,98.8 L484.0,99.2 L484.6,99.6 L485.3,100.0 L485.9,100.4 L486.6,100.9 L487.2,101.3 L487.8,101.7 L488.4,102.2 L489.0,102.7 L489.6,103.1 L490.1,103.6 L490.7,104.1 L491.2,104.6 L491.7,105.1 L492.3,105.7 L492.8,106.2 L493.3,106.7 L493.7,107.3 L494.2,107.8 L494.7,108.4 L495.2,108.9 L495.7,109.5 L496.2,110.0 L496.6,110.6 L497.1,111.2 L497.6,111.8 L498.0,112.3 L498.4,113.0 L498.9,113.6 L499.3,114.2 L499.7,114.8 L500.1,115.5 L500.5,116.2 L500.8,116.8 L501.2,117.5 L501.5,118.2 L501.8,118.9 L502.1,119.6 L502.4,120.4 L502.7,121.1 L502.9,121.8 L503.2,122.6 L503.4,123.4 L503.6,124.1 L503.7,124.9 L503.9,125.7 L504.0,126.5 L504.1,127.3 L504.2,128.1 L504.3,128.9 L504.4,129.7 L504.4,130.6 L504.4,131.4 L504.4,132.2 L504.4,133.1 L504.4,133.9 L504.3,134.8 L504.2,135.6 L504.0,136.4 L503.8,137.2 L503.5,138.0 L503.3,138.8 L502.9,139.6 L502.6,140.4 L502.2,141.1 L501.8,141.9 L501.4,142.6 L501.0,143.3 L500.5,144.0 L500.0,144.7 L499.5,145.4 L499.0,146.1 L498.5,146.7 L497.9,147.4 L497.3,148.0 L496.8,148.6 L496.2,149.2 L495.6,149.8 L495.0,150.3 L494.3,150.9 L493.7,151.4 L493.0,151.9 L492.3,152.4 L491.6,152.8 L490.8,153.2 L490.1,153.6 L489.3,153.9 L488.6,154.2 L487.8,154.5 L487.0,154.8 L486.2,155.0 L485.4,155.3 L484.6,155.4 L483.8,155.6 L483.0,155.7 L482.2,155.9 L481.4,156.0 L480.6,156.1 L479.8,156.1 L479.0,156.2 L478.2,156.2 L477.4,156.2 L476.6,156.2 L475.8,156.1 L475.0,156.0 L474.3,156.0 L473.5,155.8 L472.7,155.7 L472.0,155.6 L471.2,155.4 L470.5,155.2 L469.7,155.0 L469.0,154.8 L468.3,154.6 L467.6,154.4 L466.9,154.2 L466.1,153.9 L465.4,153.7 L464.7,153.4 L464.1,153.2 L463.4,152.9 L462.7,152.6 L462.0,152.3 L461.4,151.9 L460.7,151.6 L460.1,151.2 L459.4,150.9 L458.8,150.5 L458.2,150.1 L457.6,149.6 L457.0,149.2 L456.4,148.8 L455.8,148.3 L455.3,147.8 L454.7,147.3 L454.2,146.8 L453.7,146.3 L453.2,145.8 L452.7,145.3 L452.2,144.7 L451.7,144.1 L451.2,143.6 L450.7,143.0 L450.2,142.5 L449.7,141.9 L449.2,141.4 L448.7,140.8 L448.2,140.3 L447.6,139.7 L447.1,139.1 L446.5,138.5 L446.0,137.9 L445.5,137.3 L444.9,136.6 L444.4,136.0 L443.9,135.3 L443.4,134.6 L442.9,133.9 L442.4,133.1 L441.9,132.4 L441.4,131.6 L440.8,130.8 L440.2,130.0 L439.6,129.2 L439.0,128.3 L438.4,127.4Z" fill="#00fd3f" stroke="#00fd3f" stroke-width="0.4"/>
<path d="M439.8,126.5 L439.3,125.6 L438.9,124.7 L438.5,123.7 L438.2,122.8 L438.0,121.8 L437.9,120.9 L437.9,119.9 L437.8,118.9 L437.9,117.9 L437.9,117.0 L438.0,116.0 L438.2,115.0 L438.3,114.0 L438.5,113.1 L438.8,112.1 L439.1,111.2 L439.4,110.3 L439.8,109.3 L440.3,108.5 L440.8,107.6 L441.3,106.8 L441.9,106.0 L442.5,105.2 L443.2,104.5 L443.9,103.8 L444.7,103.1 L445.4,102.5 L446.2,101.9 L447.0,101.4 L447.8,100.8 L448.7,100.3 L449.5,99.8 L450.3,99.4 L451.2,98.9 L452.0,98.5 L452.9,98.1 L453.7,97.7 L454.6,97.4 L455.5,97.1 L456.3,96.8 L457.2,96.5 L458.1,96.3 L459.0,96.1 L459.9,95.9 L460.8,95.8 L461.7,95.7 L462.5,95.6 L463.4,95.5 L464.3,95.4 L465.2,95.4 L466.0,95.4 L466.9,95.4 L467.7,95.4 L468.6,95.5 L469.4,95.5 L470.3,95.6 L471.1,95.7 L471.9,95.9 L472.7,96.0 L473.5,96.2 L474.3,96.4 L475.1,96.6 L475.8,96.8 L476.6,97.1 L477.3,97.3 L478.1,97.6 L478.8,97.9 L479.5,98.2 L480.2,98.5 L480.9,98.9 L481.6,99.2 L482.3,99.5 L482.9,99.9 L483.6,100.3 L484.2,100.6 L484.9,101.0 L485.5,101.4 L486.1,101.8 L486.7,102.2 L487.3,102.7 L487.8,103.1 L488.4,103.6 L488.9,104.1 L489.4,104.6 L490.0,105.0 L490.5,105.5 L491.0,106.1 L491.4,106.6 L491.9,107.1 L492.4,107.6 L492.8,108.2 L493.3,108.7 L493.7,109.3 L494.1,109.8 L494.5,110.4 L494.9,110.9 L495.4,111.5 L495.7,112.1 L496.1,112.6 L496.5,113.2 L496.9,113.8 L497.3,114.4 L497.6,115.0 L498.0,115.6 L498.3,116.2 L498.6,116.8 L499.0,117.5 L499.3,118.1 L499.6,118.8 L499.8,119.4 L500.1,120.1 L500.4,120.8 L500.6,121.5 L500.8,122.2 L501.0,122.9 L501.2,123.6 L501.3,124.3 L501.5,125.0 L501.6,125.8 L501.7,126.5 L501.8,127.2 L501.8,128.0 L501.9,128.7 L501.9,129.5 L502.0,130.2 L502.0,131.0 L502.0,131.8 L502.0,132.6 L501.9,133.3 L501.8,134.1 L501.7,134.9 L501.6,135.6 L501.4,136.4 L501.2,137.1 L500.9,137.9 L500.7,138.6 L500.4,139.3 L500.0,140.0 L499.7,140.7 L499.3,141.4 L498.9,142.1 L498.5,142.7 L498.0,143.4 L497.6,144.0 L497.1,144.6 L496.6,145.2 L496.1,145.8 L495.6,146.4 L495.1,147.0 L494.6,147.6 L494.0,148.1 L493.4,148.6 L492.8,149.1 L492.2,149.6 L491.6,150.1 L490.9,150.5 L490.3,150.9 L489.6,151.3 L488.9,151.6 L488.2,151.9 L487.5,152.2 L486.7,152.5 L486.0,152.7 L485.3,153.0 L484.5,153.1 L483.8,153.3 L483.1,153.5 L482.3,153.6 L481.6,153.7 L480.8,153.8 L480.1,153.9 L479.3,154.0 L478.6,154.0 L477.9,154.1 L477.1,154.1 L476.4,154.1 L475.7,154.0 L474.9,154.0 L474.2,153.9 L473.5,153.8 L472.8,153.7 L472.1,153.5 L471.4,153.4 L470.7,153.2 L470.0,153.1 L469.3,152.9 L468.6,152.7 L468.0,152.5 L467.3,152.3 L466.6,152.1 L466.0,151.9 L465.3,151.6 L464.7,151.4 L464.0,151.1 L463.4,150.9 L462.8,150.6 L462.1,150.3 L461.5,150.0 L460.9,149.7 L460.3,149.3 L459.7,149.0 L459.2,148.6 L458.6,148.2 L458.0,147.8 L457.5,147.4 L456.9,147.0 L456.4,146.5 L455.9,146.1 L455.4,145.6 L454.9,145.1 L454.4,144.6 L453.9,144.1 L453.5,143.6 L453.0,143.1 L452.6,142.5 L452.1,142.0 L451.7,141.5 L451.2,141.0 L450.7,140.5 L450.2,140.0 L449.7,139.4 L449.2,138.9 L448.6,138.4 L448.1,137.8 L447.6,137.2 L447.0,136.7 L446.5,136.1 L446.0,135.4 L445.4,134.8 L444.9,134.2 L444.5,133.5 L444.0,132.8 L443.5,132.1 L443.0,131.3 L442.5,130.6 L442.0,129.8 L441.4,129.0 L440.9,128.2 L440.3,127.4Z" fill="#00faa3" stroke="#00faa3" stroke-width="0.4"/>
<path d="M442.9,126.5 L442.5,125.7 L442.2,124.9 L441.9,124.0 L441.8,123.2 L441.7,122.3 L441.6,121.5 L441.6,120.6 L441.7,119.7 L441.8,118.9 L441.9,118.0 L442.1,117.2 L442.2,116.3 L442.4,115.5 L442.7,114.7 L442.9,113.8 L443.2,113.0 L443.6,112.2 L443.9,111.4 L444.3,110.7 L444.8,109.9 L445.2,109.2 L445.7,108.5 L446.3,107.8 L446.8,107.1 L447.4,106.5 L448.1,105.9 L448.7,105.3 L449.4,104.8 L450.1,104.3 L450.8,103.8 L451.5,103.3 L452.2,102.8 L452.9,102.4 L453.6,102.0 L454.4,101.6 L455.1,101.2 L455.9,100.8 L456.6,100.5 L457.4,100.2 L458.1,99.9 L458.9,99.6 L459.7,99.4 L460.5,99.2 L461.3,99.0 L462.0,98.8 L462.8,98.7 L463.6,98.6 L464.4,98.5 L465.2,98.4 L465.9,98.3 L466.7,98.3 L467.5,98.2 L468.3,98.2 L469.0,98.2 L469.8,98.2 L470.5,98.3 L471.3,98.3 L472.0,98.4 L472.8,98.5 L473.5,98.7 L474.2,98.8 L474.9,99.0 L475.7,99.1 L476.4,99.3 L477.0,99.6 L477.7,99.8 L478.4,100.0 L479.1,100.3 L479.7,100.6 L480.4,100.8 L481.0,101.1 L481.6,101.4 L482.3,101.7 L482.9,102.1 L483.5,102.4 L484.1,102.7 L484.7,103.1 L485.2,103.5 L485.8,103.9 L486.3,104.3 L486.9,104.7 L487.4,105.1 L487.9,105.6 L488.4,106.0 L488.9,106.5 L489.3,107.0 L489.8,107.4 L490.2,107.9 L490.7,108.4 L491.1,108.9 L491.5,109.4 L491.9,109.9 L492.3,110.4 L492.7,111.0 L493.1,111.5 L493.4,112.0 L493.8,112.6 L494.1,113.1 L494.5,113.7 L494.8,114.2 L495.1,114.8 L495.4,115.3 L495.7,115.9 L496.0,116.5 L496.3,117.0 L496.6,117.6 L496.9,118.2 L497.1,118.8 L497.4,119.4 L497.6,120.0 L497.8,120.7 L498.0,121.3 L498.2,121.9 L498.4,122.6 L498.5,123.2 L498.7,123.9 L498.8,124.5 L498.9,125.2 L498.9,125.8 L499.0,126.5 L499.1,127.2 L499.1,127.8 L499.2,128.5 L499.2,129.2 L499.2,129.9 L499.2,130.6 L499.2,131.3 L499.2,132.0 L499.2,132.7 L499.1,133.4 L499.0,134.1 L498.9,134.7 L498.7,135.4 L498.6,136.1 L498.3,136.8 L498.1,137.5 L497.8,138.1 L497.5,138.8 L497.2,139.4 L496.9,140.0 L496.5,140.6 L496.2,141.2 L495.8,141.8 L495.4,142.4 L495.0,143.0 L494.5,143.5 L494.1,144.1 L493.6,144.6 L493.1,145.1 L492.6,145.6 L492.1,146.1 L491.6,146.6 L491.1,147.1 L490.5,147.5 L489.9,147.9 L489.4,148.3 L488.8,148.7 L488.1,149.0 L487.5,149.4 L486.9,149.7 L486.2,149.9 L485.6,150.2 L484.9,150.4 L484.3,150.6 L483.6,150.8 L482.9,151.0 L482.2,151.2 L481.6,151.3 L480.9,151.4 L480.2,151.6 L479.5,151.7 L478.9,151.7 L478.2,151.8 L477.5,151.9 L476.8,151.9 L476.2,151.9 L475.5,151.9 L474.8,151.9 L474.2,151.8 L473.5,151.8 L472.8,151.7 L472.2,151.6 L471.5,151.5 L470.9,151.4 L470.2,151.2 L469.6,151.1 L469.0,150.9 L468.3,150.7 L467.7,150.6 L467.1,150.4 L466.5,150.2 L465.9,150.0 L465.3,149.8 L464.7,149.5 L464.1,149.3 L463.5,149.0 L462.9,148.8 L462.3,148.5 L461.7,148.2 L461.2,147.9 L460.6,147.5 L460.1,147.2 L459.5,146.8 L459.0,146.5 L458.5,146.1 L458.0,145.7 L457.5,145.3 L457.0,144.9 L456.5,144.4 L456.0,144.0 L455.6,143.5 L455.1,143.1 L454.7,142.6 L454.3,142.1 L453.8,141.6 L453.4,141.1 L453.0,140.6 L452.5,140.1 L452.1,139.6 L451.6,139.1 L451.1,138.6 L450.7,138.1 L450.2,137.6 L449.7,137.1 L449.2,136.5 L448.8,136.0 L448.3,135.4 L447.9,134.8 L447.4,134.2 L447.0,133.6 L446.5,133.0 L446.1,132.3 L445.7,131.6 L445.3,131.0 L444.9,130.3 L444.5,129.5 L444.1,128.8 L443.7,128.1 L443.2,127.3Z" fill="#00ffe5" stroke="#00ffe5" stroke-width="0.4"/>
<path d="M446.7,126.5 L446.5,125.8 L446.3,125.1 L446.2,124.4 L446.1,123.6 L446.1,122.9 L446.1,122.2 L446.2,121.4 L446.2,120.7 L446.3,120.0 L446.5,119.3 L446.6,118.5 L446.8,117.8 L446.9,117.1 L447.1,116.4 L447.4,115.7 L447.6,115.0 L447.9,114.3 L448.2,113.6 L448.5,112.9 L448.9,112.3 L449.3,111.7 L449.7,111.0 L450.1,110.4 L450.6,109.8 L451.0,109.3 L451.5,108.7 L452.1,108.2 L452.6,107.7 L453.2,107.2 L453.7,106.7 L454.3,106.3 L454.9,105.9 L455.5,105.5 L456.1,105.1 L456.8,104.7 L457.4,104.3 L458.1,104.0 L458.7,103.7 L459.4,103.4 L460.0,103.2 L460.7,102.9 L461.4,102.7 L462.1,102.5 L462.7,102.3 L463.4,102.2 L464.1,102.0 L464.8,101.9 L465.5,101.8 L466.2,101.7 L466.8,101.6 L467.5,101.6 L468.2,101.5 L468.9,101.5 L469.5,101.5 L470.2,101.5 L470.9,101.5 L471.5,101.5 L472.2,101.6 L472.8,101.6 L473.5,101.7 L474.1,101.8 L474.8,101.9 L475.4,102.1 L476.1,102.2 L476.7,102.4 L477.3,102.6 L477.9,102.8 L478.5,103.0 L479.1,103.2 L479.7,103.4 L480.3,103.7 L480.8,103.9 L481.4,104.2 L482.0,104.5 L482.5,104.8 L483.0,105.1 L483.6,105.4 L484.1,105.7 L484.6,106.1 L485.1,106.4 L485.6,106.8 L486.1,107.1 L486.5,107.5 L487.0,107.9 L487.5,108.3 L487.9,108.7 L488.3,109.1 L488.7,109.6 L489.2,110.0 L489.5,110.5 L489.9,110.9 L490.3,111.4 L490.7,111.8 L491.0,112.3 L491.4,112.8 L491.7,113.3 L492.0,113.8 L492.3,114.3 L492.6,114.8 L492.9,115.3 L493.2,115.8 L493.5,116.3 L493.7,116.8 L494.0,117.4 L494.2,117.9 L494.4,118.5 L494.7,119.0 L494.9,119.6 L495.1,120.1 L495.2,120.7 L495.4,121.2 L495.5,121.8 L495.7,122.4 L495.8,123.0 L495.9,123.6 L496.0,124.1 L496.1,124.7 L496.1,125.3 L496.2,125.9 L496.2,126.5 L496.2,127.1 L496.3,127.7 L496.3,128.3 L496.3,128.9 L496.3,129.5 L496.3,130.1 L496.3,130.7 L496.3,131.4 L496.3,132.0 L496.2,132.6 L496.2,133.2 L496.1,133.8 L496.0,134.5 L495.8,135.1 L495.7,135.7 L495.5,136.3 L495.2,136.9 L495.0,137.5 L494.7,138.0 L494.4,138.6 L494.1,139.1 L493.8,139.7 L493.4,140.2 L493.1,140.7 L492.7,141.2 L492.3,141.7 L491.9,142.2 L491.5,142.7 L491.0,143.2 L490.6,143.6 L490.1,144.0 L489.7,144.5 L489.2,144.9 L488.7,145.3 L488.2,145.6 L487.7,146.0 L487.1,146.3 L486.6,146.7 L486.0,147.0 L485.5,147.3 L484.9,147.5 L484.3,147.8 L483.8,148.0 L483.2,148.3 L482.6,148.5 L482.0,148.6 L481.4,148.8 L480.8,149.0 L480.2,149.1 L479.6,149.3 L479.0,149.4 L478.4,149.5 L477.8,149.6 L477.2,149.7 L476.6,149.7 L475.9,149.8 L475.3,149.8 L474.7,149.8 L474.1,149.8 L473.5,149.8 L472.9,149.7 L472.3,149.7 L471.7,149.6 L471.1,149.5 L470.5,149.4 L469.9,149.3 L469.3,149.2 L468.7,149.1 L468.1,148.9 L467.5,148.8 L467.0,148.6 L466.4,148.4 L465.8,148.2 L465.2,148.0 L464.7,147.8 L464.1,147.5 L463.6,147.3 L463.0,147.0 L462.5,146.7 L462.0,146.4 L461.5,146.1 L461.0,145.8 L460.4,145.5 L460.0,145.1 L459.5,144.8 L459.0,144.4 L458.5,144.1 L458.0,143.7 L457.6,143.3 L457.1,142.9 L456.7,142.5 L456.2,142.0 L455.8,141.6 L455.4,141.2 L455.0,140.7 L454.6,140.2 L454.2,139.8 L453.8,139.3 L453.4,138.8 L453.0,138.3 L452.6,137.9 L452.2,137.4 L451.8,136.8 L451.4,136.3 L451.1,135.8 L450.7,135.3 L450.3,134.7 L450.0,134.1 L449.7,133.6 L449.3,133.0 L449.0,132.4 L448.7,131.8 L448.4,131.1 L448.2,130.5 L447.9,129.9 L447.6,129.2 L447.4,128.6 L447.1,127.9 L446.9,127.2Z" fill="#00d7ff" stroke="#00d7ff" stroke-width="0.4"/>
<path d="M450.5,126.5 L450.4,125.9 L450.4,125.3 L450.4,124.7 L450.4,124.1 L450.4,123.5 L450.4,122.8 L450.5,122.2 L450.5,121.6 L450.6,121.0 L450.7,120.4 L450.8,119.8 L450.9,119.2 L451.1,118.6 L451.3,118.0 L451.4,117.4 L451.6,116.8 L451.9,116.2 L452.1,115.6 L452.4,115.0 L452.6,114.4 L452.9,113.9 L453.2,113.3 L453.6,112.8 L453.9,112.3 L454.3,111.8 L454.7,111.3 L455.1,110.8 L455.5,110.3 L456.0,109.9 L456.5,109.5 L456.9,109.1 L457.4,108.7 L458.0,108.3 L458.5,108.0 L459.0,107.6 L459.6,107.3 L460.1,107.0 L460.7,106.8 L461.3,106.5 L461.8,106.3 L462.4,106.1 L463.0,105.9 L463.6,105.7 L464.2,105.5 L464.8,105.4 L465.3,105.3 L465.9,105.1 L466.5,105.0 L467.1,105.0 L467.7,104.9 L468.3,104.8 L468.9,104.8 L469.5,104.7 L470.0,104.7 L470.6,104.7 L471.2,104.7 L471.8,104.7 L472.4,104.7 L472.9,104.8 L473.5,104.8 L474.1,104.9 L474.6,105.0 L475.2,105.1 L475.7,105.2 L476.3,105.3 L476.8,105.5 L477.4,105.6 L477.9,105.8 L478.4,105.9 L479.0,106.1 L479.5,106.3 L480.0,106.6 L480.5,106.8 L481.0,107.0 L481.5,107.3 L482.0,107.5 L482.4,107.8 L482.9,108.1 L483.4,108.3 L483.8,108.6 L484.3,109.0 L484.7,109.3 L485.1,109.6 L485.5,109.9 L486.0,110.3 L486.4,110.6 L486.7,111.0 L487.1,111.4 L487.5,111.7 L487.9,112.1 L488.2,112.5 L488.6,112.9 L488.9,113.4 L489.2,113.8 L489.5,114.2 L489.8,114.7 L490.1,115.1 L490.4,115.6 L490.6,116.0 L490.9,116.5 L491.1,116.9 L491.3,117.4 L491.5,117.9 L491.7,118.4 L491.9,118.9 L492.1,119.4 L492.3,119.9 L492.4,120.4 L492.6,120.9 L492.7,121.4 L492.8,121.9 L492.9,122.4 L493.0,122.9 L493.1,123.4 L493.2,123.9 L493.2,124.4 L493.2,124.9 L493.3,125.5 L493.3,126.0 L493.3,126.5 L493.3,127.0 L493.4,127.5 L493.4,128.1 L493.4,128.6 L493.4,129.1 L493.4,129.7 L493.4,130.2 L493.4,130.7 L493.4,131.3 L493.3,131.8 L493.3,132.4 L493.2,132.9 L493.1,133.5 L493.0,134.0 L492.9,134.5 L492.8,135.1 L492.6,135.6 L492.4,136.1 L492.2,136.7 L492.0,137.2 L491.7,137.7 L491.4,138.1 L491.1,138.6 L490.8,139.1 L490.4,139.5 L490.1,139.9 L489.7,140.4 L489.4,140.8 L489.0,141.2 L488.6,141.6 L488.2,142.0 L487.7,142.3 L487.3,142.7 L486.9,143.0 L486.4,143.4 L486.0,143.7 L485.5,144.0 L485.1,144.3 L484.6,144.6 L484.1,144.8 L483.6,145.1 L483.1,145.4 L482.6,145.6 L482.1,145.8 L481.6,146.0 L481.1,146.2 L480.5,146.4 L480.0,146.6 L479.5,146.7 L479.0,146.9 L478.4,147.0 L477.9,147.1 L477.3,147.2 L476.8,147.3 L476.3,147.4 L475.7,147.5 L475.2,147.5 L474.6,147.6 L474.1,147.6 L473.5,147.6 L472.9,147.6 L472.4,147.6 L471.8,147.5 L471.3,147.5 L470.7,147.4 L470.2,147.3 L469.7,147.2 L469.1,147.1 L468.6,147.0 L468.0,146.9 L467.5,146.7 L467.0,146.6 L466.5,146.4 L465.9,146.2 L465.4,146.0 L464.9,145.8 L464.4,145.5 L463.9,145.3 L463.4,145.0 L463.0,144.8 L462.5,144.5 L462.0,144.2 L461.5,143.9 L461.1,143.6 L460.6,143.3 L460.2,142.9 L459.7,142.6 L459.3,142.3 L458.9,141.9 L458.5,141.5 L458.0,141.2 L457.6,140.8 L457.2,140.4 L456.8,140.0 L456.5,139.6 L456.1,139.2 L455.7,138.7 L455.4,138.3 L455.0,137.8 L454.7,137.4 L454.4,136.9 L454.1,136.4 L453.8,135.9 L453.5,135.4 L453.2,134.9 L452.9,134.4 L452.7,133.9 L452.5,133.3 L452.2,132.8 L452.0,132.3 L451.8,131.7 L451.6,131.2 L451.4,130.6 L451.2,130.0 L451.1,129.5 L450.9,128.9 L450.8,128.3 L450.7,127.7 L450.6,127.1Z" fill="#0071ff" stroke="#0071ff" stroke-width="0.4"/>
<path d="M454.2,126.5 L454.1,126.0 L454.1,125.5 L454.1,125.0 L454.1,124.5 L454.1,123.9 L454.1,123.4 L454.1,122.9 L454.2,122.4 L454.3,121.9 L454.3,121.4 L454.4,120.8 L454.5,120.3 L454.6,119.8 L454.7,119.3 L454.8,118.8 L455.0,118.3 L455.1,117.7 L455.3,117.2 L455.5,116.7 L455.7,116.2 L455.9,115.7 L456.2,115.2 L456.4,114.8 L456.7,114.3 L457.0,113.8 L457.3,113.4 L457.7,113.0 L458.0,112.6 L458.4,112.2 L458.8,111.8 L459.2,111.4 L459.6,111.1 L460.1,110.8 L460.5,110.5 L461.0,110.2 L461.5,109.9 L462.0,109.7 L462.4,109.5 L462.9,109.3 L463.4,109.1 L463.9,108.9 L464.4,108.7 L465.0,108.6 L465.5,108.5 L466.0,108.3 L466.5,108.2 L467.0,108.1 L467.5,108.1 L468.0,108.0 L468.5,107.9 L469.0,107.9 L469.5,107.9 L470.0,107.8 L470.5,107.8 L471.0,107.8 L471.5,107.8 L472.0,107.7 L472.5,107.8 L473.0,107.8 L473.5,107.8 L474.0,107.9 L474.5,107.9 L475.0,108.0 L475.4,108.1 L475.9,108.1 L476.4,108.3 L476.9,108.4 L477.3,108.5 L477.8,108.6 L478.2,108.8 L478.7,108.9 L479.1,109.1 L479.6,109.3 L480.0,109.5 L480.5,109.7 L480.9,109.9 L481.3,110.1 L481.7,110.4 L482.1,110.6 L482.5,110.9 L482.9,111.1 L483.3,111.4 L483.7,111.7 L484.1,112.0 L484.4,112.3 L484.8,112.6 L485.1,112.9 L485.4,113.2 L485.8,113.6 L486.1,113.9 L486.4,114.3 L486.7,114.7 L486.9,115.0 L487.2,115.4 L487.5,115.8 L487.7,116.2 L487.9,116.6 L488.2,117.0 L488.4,117.4 L488.6,117.8 L488.8,118.2 L488.9,118.6 L489.1,119.1 L489.3,119.5 L489.4,119.9 L489.6,120.3 L489.7,120.8 L489.8,121.2 L489.9,121.6 L490.0,122.1 L490.1,122.5 L490.2,123.0 L490.2,123.4 L490.3,123.8 L490.3,124.3 L490.4,124.7 L490.4,125.2 L490.4,125.6 L490.4,126.1 L490.4,126.5 L490.5,126.9 L490.5,127.4 L490.5,127.8 L490.5,128.3 L490.6,128.7 L490.6,129.2 L490.6,129.7 L490.6,130.1 L490.6,130.6 L490.6,131.1 L490.6,131.6 L490.5,132.0 L490.5,132.5 L490.4,133.0 L490.3,133.5 L490.2,133.9 L490.1,134.4 L489.9,134.9 L489.8,135.3 L489.6,135.8 L489.4,136.2 L489.1,136.7 L488.9,137.1 L488.6,137.5 L488.3,137.9 L488.0,138.2 L487.7,138.6 L487.3,139.0 L487.0,139.3 L486.6,139.6 L486.3,140.0 L485.9,140.3 L485.5,140.6 L485.2,140.9 L484.8,141.2 L484.4,141.5 L484.0,141.7 L483.6,142.0 L483.1,142.2 L482.7,142.5 L482.3,142.7 L481.9,142.9 L481.4,143.1 L481.0,143.3 L480.5,143.5 L480.1,143.7 L479.6,143.8 L479.2,144.0 L478.7,144.1 L478.3,144.2 L477.8,144.4 L477.3,144.5 L476.8,144.6 L476.4,144.7 L475.9,144.7 L475.4,144.8 L474.9,144.8 L474.5,144.9 L474.0,144.9 L473.5,144.9 L473.0,144.9 L472.5,144.9 L472.1,144.9 L471.6,144.9 L471.1,144.8 L470.6,144.7 L470.1,144.7 L469.7,144.6 L469.2,144.5 L468.7,144.4 L468.2,144.2 L467.8,144.1 L467.3,143.9 L466.9,143.8 L466.4,143.6 L466.0,143.4 L465.5,143.2 L465.1,143.0 L464.7,142.8 L464.3,142.5 L463.8,142.3 L463.4,142.0 L463.0,141.7 L462.6,141.5 L462.2,141.2 L461.9,140.9 L461.5,140.6 L461.1,140.3 L460.7,139.9 L460.4,139.6 L460.0,139.3 L459.7,138.9 L459.4,138.6 L459.0,138.2 L458.7,137.9 L458.4,137.5 L458.1,137.1 L457.8,136.7 L457.5,136.3 L457.3,135.9 L457.0,135.4 L456.8,135.0 L456.6,134.6 L456.3,134.1 L456.1,133.7 L455.9,133.2 L455.8,132.8 L455.6,132.3 L455.4,131.9 L455.2,131.4 L455.1,130.9 L454.9,130.4 L454.8,130.0 L454.7,129.5 L454.5,129.0 L454.4,128.5 L454.3,128.0 L454.3,127.5 L454.2,127.0Z" fill="#000ecd" stroke="#000ecd" stroke-width="0.4"/>
<path d="M457.7,126.5 L457.7,126.1 L457.6,125.7 L457.6,125.2 L457.6,124.8 L457.5,124.4 L457.5,124.0 L457.6,123.5 L457.6,123.1 L457.6,122.7 L457.7,122.3 L457.7,121.8 L457.8,121.4 L457.8,120.9 L457.9,120.5 L458.0,120.1 L458.1,119.6 L458.2,119.2 L458.3,118.7 L458.4,118.3 L458.5,117.9 L458.7,117.4 L458.9,117.0 L459.1,116.6 L459.3,116.2 L459.5,115.8 L459.8,115.4 L460.1,115.0 L460.4,114.7 L460.7,114.3 L461.0,114.0 L461.4,113.7 L461.7,113.4 L462.1,113.2 L462.5,112.9 L462.9,112.7 L463.3,112.5 L463.7,112.3 L464.1,112.1 L464.6,111.9 L465.0,111.8 L465.4,111.6 L465.9,111.5 L466.3,111.4 L466.7,111.3 L467.2,111.3 L467.6,111.2 L468.1,111.1 L468.5,111.1 L468.9,111.0 L469.3,111.0 L469.8,111.0 L470.2,111.0 L470.6,110.9 L471.0,110.9 L471.4,110.9 L471.9,110.9 L472.3,110.9 L472.7,110.9 L473.1,110.9 L473.5,110.9 L473.9,110.9 L474.3,111.0 L474.7,111.0 L475.1,111.1 L475.5,111.2 L475.9,111.2 L476.3,111.3 L476.7,111.4 L477.1,111.5 L477.5,111.6 L477.9,111.8 L478.2,111.9 L478.6,112.0 L479.0,112.2 L479.4,112.4 L479.7,112.5 L480.1,112.7 L480.4,112.9 L480.8,113.1 L481.1,113.3 L481.4,113.6 L481.7,113.8 L482.1,114.0 L482.4,114.3 L482.7,114.6 L482.9,114.8 L483.2,115.1 L483.5,115.4 L483.7,115.7 L484.0,116.0 L484.2,116.3 L484.5,116.6 L484.7,117.0 L484.9,117.3 L485.1,117.6 L485.3,118.0 L485.4,118.3 L485.6,118.6 L485.8,119.0 L485.9,119.3 L486.0,119.7 L486.2,120.0 L486.3,120.4 L486.4,120.8 L486.5,121.1 L486.6,121.5 L486.7,121.8 L486.8,122.2 L486.8,122.5 L486.9,122.9 L487.0,123.3 L487.0,123.6 L487.1,124.0 L487.1,124.3 L487.1,124.7 L487.2,125.1 L487.2,125.4 L487.2,125.8 L487.2,126.1 L487.2,126.5 L487.3,126.9 L487.3,127.2 L487.3,127.6 L487.4,128.0 L487.4,128.3 L487.4,128.7 L487.5,129.1 L487.5,129.5 L487.5,129.9 L487.5,130.3 L487.5,130.7 L487.5,131.1 L487.5,131.5 L487.5,131.9 L487.4,132.3 L487.4,132.7 L487.3,133.1 L487.2,133.5 L487.1,133.9 L486.9,134.3 L486.8,134.6 L486.6,135.0 L486.4,135.4 L486.2,135.7 L486.0,136.1 L485.7,136.4 L485.4,136.7 L485.2,137.0 L484.9,137.3 L484.6,137.6 L484.3,137.9 L484.0,138.2 L483.7,138.4 L483.4,138.7 L483.0,138.9 L482.7,139.2 L482.4,139.4 L482.0,139.6 L481.7,139.9 L481.3,140.1 L481.0,140.3 L480.6,140.4 L480.2,140.6 L479.9,140.8 L479.5,140.9 L479.1,141.1 L478.7,141.2 L478.3,141.3 L477.9,141.5 L477.5,141.6 L477.1,141.7 L476.7,141.8 L476.3,141.8 L475.9,141.9 L475.5,141.9 L475.1,142.0 L474.7,142.0 L474.3,142.0 L473.9,142.1 L473.5,142.1 L473.1,142.0 L472.7,142.0 L472.3,142.0 L471.9,142.0 L471.5,141.9 L471.1,141.8 L470.7,141.8 L470.3,141.7 L469.9,141.6 L469.5,141.5 L469.1,141.4 L468.7,141.2 L468.3,141.1 L468.0,140.9 L467.6,140.8 L467.2,140.6 L466.8,140.5 L466.5,140.3 L466.1,140.1 L465.8,139.9 L465.4,139.7 L465.1,139.4 L464.8,139.2 L464.4,139.0 L464.1,138.7 L463.8,138.5 L463.5,138.2 L463.2,137.9 L462.9,137.6 L462.7,137.3 L462.4,137.1 L462.1,136.7 L461.9,136.4 L461.6,136.1 L461.4,135.8 L461.1,135.5 L460.9,135.1 L460.7,134.8 L460.5,134.5 L460.3,134.1 L460.1,133.8 L459.9,133.4 L459.7,133.1 L459.6,132.7 L459.4,132.3 L459.3,132.0 L459.1,131.6 L459.0,131.2 L458.8,130.8 L458.7,130.5 L458.6,130.1 L458.4,129.7 L458.3,129.3 L458.2,128.9 L458.1,128.5 L458.0,128.1 L457.9,127.7 L457.8,127.3 L457.8,126.9Z" fill="#005127" stroke="#005127" stroke-width="0.4"/>
<path d="M460.9,126.5 L460.9,126.2 L460.8,125.8 L460.8,125.5 L460.7,125.2 L460.7,124.8 L460.7,124.5 L460.7,124.1 L460.7,123.8 L460.7,123.4 L460.7,123.1 L460.7,122.7 L460.8,122.4 L460.8,122.0 L460.9,121.6 L460.9,121.3 L461.0,120.9 L461.0,120.6 L461.1,120.2 L461.2,119.8 L461.3,119.5 L461.4,119.1 L461.6,118.8 L461.7,118.4 L461.9,118.1 L462.1,117.7 L462.3,117.4 L462.5,117.1 L462.7,116.8 L463.0,116.5 L463.3,116.3 L463.5,116.0 L463.8,115.8 L464.2,115.6 L464.5,115.4 L464.8,115.2 L465.2,115.0 L465.5,114.9 L465.9,114.8 L466.2,114.7 L466.6,114.6 L467.0,114.5 L467.3,114.4 L467.7,114.4 L468.1,114.3 L468.4,114.3 L468.8,114.3 L469.2,114.2 L469.5,114.2 L469.9,114.2 L470.2,114.2 L470.5,114.2 L470.9,114.2 L471.2,114.2 L471.6,114.2 L471.9,114.2 L472.2,114.2 L472.5,114.2 L472.9,114.2 L473.2,114.2 L473.5,114.3 L473.8,114.3 L474.1,114.3 L474.5,114.4 L474.8,114.4 L475.1,114.5 L475.4,114.6 L475.7,114.7 L476.0,114.7 L476.3,114.8 L476.6,114.9 L476.9,115.0 L477.2,115.2 L477.5,115.3 L477.8,115.4 L478.0,115.6 L478.3,115.7 L478.6,115.9 L478.8,116.0 L479.1,116.2 L479.3,116.4 L479.6,116.6 L479.8,116.8 L480.0,117.0 L480.3,117.2 L480.5,117.4 L480.7,117.6 L480.9,117.9 L481.0,118.1 L481.2,118.4 L481.4,118.6 L481.5,118.9 L481.7,119.2 L481.8,119.4 L481.9,119.7 L482.0,120.0 L482.1,120.2 L482.2,120.5 L482.3,120.8 L482.4,121.0 L482.5,121.3 L482.5,121.6 L482.6,121.9 L482.6,122.1 L482.7,122.4 L482.7,122.7 L482.8,122.9 L482.8,123.2 L482.8,123.5 L482.9,123.7 L482.9,124.0 L482.9,124.2 L482.9,124.5 L482.9,124.8 L483.0,125.0 L483.0,125.3 L483.0,125.5 L483.0,125.8 L483.0,126.0 L483.0,126.3 L483.0,126.5 L483.1,126.8 L483.1,127.0 L483.1,127.3 L483.2,127.5 L483.2,127.8 L483.3,128.0 L483.3,128.3 L483.3,128.6 L483.4,128.9 L483.4,129.2 L483.4,129.4 L483.5,129.7 L483.5,130.0 L483.5,130.3 L483.5,130.6 L483.5,130.9 L483.5,131.3 L483.4,131.6 L483.4,131.9 L483.4,132.2 L483.3,132.5 L483.2,132.8 L483.1,133.1 L483.0,133.4 L482.9,133.7 L482.8,134.0 L482.6,134.3 L482.5,134.6 L482.3,134.8 L482.1,135.1 L481.9,135.4 L481.7,135.6 L481.5,135.9 L481.3,136.1 L481.1,136.4 L480.9,136.6 L480.6,136.9 L480.4,137.1 L480.1,137.3 L479.9,137.5 L479.6,137.7 L479.3,137.9 L479.0,138.1 L478.7,138.3 L478.4,138.4 L478.1,138.6 L477.8,138.7 L477.5,138.8 L477.2,138.9 L476.9,139.0 L476.5,139.1 L476.2,139.2 L475.9,139.2 L475.5,139.3 L475.2,139.3 L474.8,139.3 L474.5,139.3 L474.2,139.3 L473.8,139.2 L473.5,139.2 L473.2,139.2 L472.8,139.1 L472.5,139.0 L472.2,139.0 L471.9,138.9 L471.6,138.8 L471.2,138.7 L470.9,138.6 L470.6,138.5 L470.3,138.3 L470.0,138.2 L469.7,138.1 L469.4,138.0 L469.2,137.8 L468.9,137.7 L468.6,137.5 L468.3,137.4 L468.0,137.2 L467.7,137.1 L467.5,136.9 L467.2,136.8 L467.0,136.6 L466.7,136.4 L466.4,136.2 L466.2,136.0 L466.0,135.8 L465.7,135.6 L465.5,135.4 L465.3,135.2 L465.1,134.9 L464.8,134.7 L464.6,134.5 L464.4,134.2 L464.2,134.0 L464.0,133.8 L463.9,133.5 L463.7,133.2 L463.5,133.0 L463.4,132.7 L463.2,132.4 L463.1,132.2 L462.9,131.9 L462.8,131.6 L462.6,131.3 L462.5,131.0 L462.4,130.8 L462.3,130.5 L462.2,130.2 L462.0,129.9 L461.9,129.6 L461.8,129.3 L461.7,129.0 L461.6,128.7 L461.5,128.4 L461.4,128.1 L461.3,127.8 L461.2,127.5 L461.1,127.1 L461.0,126.8Z" fill="#002451" stroke="#002451" stroke-width="0.4"/>
<path d="M464.7,126.5 L464.7,126.3 L464.7,126.0 L464.7,125.8 L464.7,125.6 L464.7,125.3 L464.7,125.1 L464.7,124.9 L464.7,124.6 L464.7,124.4 L464.8,124.2 L464.8,123.9 L464.8,123.7 L464.9,123.4 L464.9,123.2 L464.9,122.9 L464.9,122.7 L465.0,122.4 L465.0,122.2 L465.0,121.9 L465.0,121.6 L465.1,121.3 L465.1,121.1 L465.2,120.8 L465.3,120.5 L465.4,120.3 L465.5,120.0 L465.6,119.7 L465.7,119.5 L465.9,119.3 L466.0,119.0 L466.2,118.8 L466.4,118.6 L466.6,118.4 L466.8,118.2 L467.0,118.1 L467.3,117.9 L467.5,117.7 L467.7,117.6 L468.0,117.5 L468.2,117.3 L468.4,117.2 L468.7,117.1 L468.9,117.0 L469.2,116.9 L469.5,116.8 L469.7,116.7 L470.0,116.6 L470.3,116.5 L470.5,116.4 L470.8,116.4 L471.1,116.3 L471.3,116.3 L471.6,116.2 L471.9,116.2 L472.1,116.2 L472.4,116.2 L472.7,116.2 L473.0,116.2 L473.2,116.2 L473.5,116.3 L473.8,116.3 L474.0,116.4 L474.3,116.4 L474.6,116.5 L474.8,116.6 L475.1,116.7 L475.3,116.8 L475.5,116.9 L475.8,117.0 L476.0,117.1 L476.2,117.2 L476.5,117.4 L476.7,117.5 L476.9,117.6 L477.1,117.8 L477.3,117.9 L477.5,118.1 L477.7,118.2 L477.9,118.4 L478.1,118.6 L478.3,118.7 L478.4,118.9 L478.6,119.1 L478.8,119.3 L478.9,119.5 L479.0,119.6 L479.2,119.8 L479.3,120.0 L479.4,120.2 L479.6,120.4 L479.7,120.7 L479.8,120.9 L479.9,121.1 L480.0,121.3 L480.0,121.5 L480.1,121.7 L480.2,121.9 L480.2,122.1 L480.3,122.3 L480.4,122.5 L480.4,122.7 L480.5,123.0 L480.5,123.2 L480.5,123.4 L480.6,123.6 L480.6,123.8 L480.6,124.0 L480.7,124.2 L480.7,124.4 L480.7,124.6 L480.7,124.8 L480.7,125.0 L480.7,125.2 L480.8,125.4 L480.8,125.5 L480.8,125.7 L480.8,125.9 L480.8,126.1 L480.8,126.3 L480.8,126.5 L480.9,126.7 L480.9,126.9 L480.9,127.1 L480.9,127.3 L481.0,127.5 L481.0,127.7 L481.0,127.9 L481.0,128.1 L481.1,128.3 L481.1,128.5 L481.1,128.8 L481.1,129.0 L481.1,129.2 L481.1,129.4 L481.1,129.7 L481.1,129.9 L481.1,130.1 L481.1,130.4 L481.1,130.6 L481.1,130.9 L481.0,131.1 L481.0,131.4 L480.9,131.6 L480.9,131.9 L480.8,132.1 L480.7,132.4 L480.7,132.6 L480.6,132.9 L480.5,133.1 L480.4,133.4 L480.3,133.6 L480.1,133.9 L480.0,134.1 L479.9,134.4 L479.8,134.7 L479.7,135.0 L479.5,135.2 L479.4,135.5 L479.2,135.8 L479.0,136.0 L478.8,136.3 L478.6,136.5 L478.4,136.7 L478.2,136.9 L477.9,137.1 L477.6,137.3 L477.4,137.4 L477.1,137.6 L476.8,137.6 L476.5,137.7 L476.2,137.8 L475.9,137.8 L475.6,137.8 L475.3,137.8 L475.0,137.8 L474.7,137.7 L474.4,137.7 L474.1,137.6 L473.8,137.5 L473.5,137.4 L473.2,137.3 L472.9,137.2 L472.7,137.1 L472.4,137.0 L472.1,136.8 L471.9,136.7 L471.6,136.6 L471.4,136.4 L471.2,136.3 L470.9,136.1 L470.7,136.0 L470.5,135.8 L470.3,135.7 L470.0,135.5 L469.8,135.4 L469.6,135.2 L469.4,135.1 L469.2,134.9 L469.0,134.7 L468.8,134.6 L468.7,134.4 L468.5,134.2 L468.3,134.0 L468.2,133.9 L468.0,133.7 L467.8,133.5 L467.7,133.3 L467.6,133.1 L467.4,132.9 L467.3,132.7 L467.2,132.5 L467.0,132.3 L466.9,132.1 L466.8,131.9 L466.7,131.7 L466.6,131.5 L466.5,131.3 L466.3,131.1 L466.2,131.0 L466.1,130.8 L466.0,130.6 L465.9,130.4 L465.8,130.2 L465.7,130.0 L465.6,129.8 L465.5,129.6 L465.5,129.3 L465.4,129.1 L465.3,128.9 L465.2,128.7 L465.2,128.5 L465.1,128.3 L465.0,128.1 L465.0,127.8 L464.9,127.6 L464.9,127.4 L464.8,127.2 L464.8,127.0 L464.8,126.7Z" fill="#000080" stroke="#000080" stroke-width="0.4"/>
<path d="M432.8,126.5 L432.1,125.4 L431.4,124.3 L430.7,123.1 L430.1,121.9 L429.5,120.7 L429.0,119.4 L428.4,118.1 L427.9,116.8 L427.4,115.4 L426.9,114.0 L426.4,112.5 L426.0,111.1 L425.7,109.6 L425.5,108.1 L425.5,106.6 L425.5,105.1 L425.6,103.6 L425.8,102.2 L426.1,100.8 L426.6,99.4 L427.3,98.2 L428.0,97.0 L428.9,95.8 L429.8,94.8 L430.8,93.7 L431.8,92.7 L432.9,91.8 L434.0,91.0 L435.3,90.2 L436.5,89.5 L437.8,88.9 L439.1,88.3 L440.5,87.8 L441.8,87.4 L443.2,87.0 L444.6,86.7 L445.9,86.4 L447.3,86.2 L448.7,86.0 L450.1,85.9 L451.4,85.8 L452.7,85.8 L454.1,85.7 L455.4,85.8 L456.7,85.9 L457.9,86.0 L459.2,86.1 L460.4,86.3 L461.7,86.5 L462.9,86.8 L464.0,87.0 L465.2,87.3 L466.3,87.6 L467.4,88.0 L468.5,88.3 L469.5,88.7 L470.6,89.0 L471.6,89.4 L472.5,89.8 L473.5,90.2 L474.4,90.6 L475.4,91.1 L476.3,91.5 L477.1,92.0 L478.0,92.4 L478.8,92.9 L479.7,93.3 L480.5,93.8 L481.3,94.2 L482.0,94.6 L482.8,95.1 L483.6,95.5 L484.3,96.0 L485.0,96.5 L485.7,97.0 L486.4,97.5 L487.1,97.9 L487.8,98.4 L488.5,98.9 L489.2,99.3 L489.9,99.7 L490.6,100.2 L491.3,100.6 L491.9,101.1 L492.6,101.6 L493.3,102.1 L493.9,102.6 L494.5,103.2 L495.1,103.7 L495.7,104.3 L496.3,104.9 L496.9,105.4 L497.6,105.9 L498.3,106.4 L499.0,106.9 L499.7,107.4 L500.4,108.0 L501.2,108.5 L501.9,109.1 L502.5,109.7 L503.2,110.4 L503.8,111.1 L504.3,111.8 L504.9,112.5 L505.4,113.3 L506.0,114.0 L506.5,114.8 L506.9,115.6 L507.4,116.5 L507.9,117.3 L508.3,118.2 L508.7,119.0 L509.0,119.9 L509.4,120.8 L509.7,121.7 L510.0,122.7 L510.3,123.6 L510.6,124.6 L510.8,125.5 L511.1,126.5 L511.3,127.5 L511.4,128.5 L511.6,129.5 L511.7,130.5 L511.8,131.5 L511.9,132.6 L511.9,133.6 L512.0,134.7 L512.0,135.7 L511.9,136.8 L511.7,137.8 L511.5,138.9 L511.2,139.9 L510.9,140.9 L510.5,141.8 L510.1,142.8 L509.7,143.8 L509.2,144.7 L508.8,145.6 L508.2,146.6 L507.7,147.4 L507.1,148.3 L506.4,149.1 L505.7,149.9 L505.0,150.6 L504.2,151.4 L503.5,152.1 L502.7,152.8 L502.0,153.5 L501.2,154.2 L500.4,154.9 L499.6,155.5 L498.8,156.2 L498.0,156.8 L497.2,157.4 L496.3,157.9 L495.5,158.5 L494.6,159.0 L493.7,159.4 L492.8,159.9 L491.9,160.3 L490.9,160.7 L490.0,161.1 L489.0,161.4 L488.1,161.7 L487.1,162.0 L486.2,162.2 L485.2,162.4 L484.2,162.6 L483.2,162.7 L482.2,162.8 L481.2,162.9 L480.3,163.0 L479.3,163.0 L478.3,163.0 L477.3,162.9 L476.4,162.9 L475.4,162.8 L474.4,162.6 L473.5,162.5 L472.6,162.3 L471.6,162.1 L470.7,161.9 L469.8,161.7 L468.9,161.5 L468.0,161.3 L467.1,161.1 L466.2,160.8 L465.3,160.5 L464.5,160.2 L463.6,159.9 L462.8,159.5 L462.0,159.1 L461.1,158.7 L460.4,158.2 L459.6,157.8 L458.8,157.3 L458.0,156.8 L457.3,156.4 L456.5,155.9 L455.8,155.4 L455.1,154.9 L454.4,154.4 L453.7,153.8 L453.0,153.3 L452.3,152.7 L451.6,152.1 L451.0,151.5 L450.3,150.9 L449.7,150.3 L449.1,149.7 L448.4,149.1 L447.8,148.4 L447.2,147.8 L446.6,147.1 L446.1,146.4 L445.5,145.7 L444.9,145.0 L444.4,144.3 L443.9,143.6 L443.4,142.9 L442.9,142.1 L442.4,141.3 L441.9,140.6 L441.4,139.8 L440.9,139.0 L440.5,138.2 L440.0,137.4 L439.6,136.6 L439.1,135.7 L438.6,134.9 L438.2,134.0 L437.7,133.1 L437.2,132.3 L436.6,131.4 L435.9,130.5 L435.2,129.5 L434.4,128.6 L433.6,127.5Z" fill="none" stroke="#000" stroke-width="1.8" stroke-dasharray="6.2,3.07"/>
<line x1="463.5" y1="133.0" x2="383.4" y2="105.8" stroke="#000" stroke-width="2.8"/>
<path d="M372.2,102.0 L386.9,101.5 L383.6,111.4Z" fill="#000"/>
<line x1="463.35" y1="8.5" x2="463.35" y2="257.7" stroke="#fff" stroke-width="1.9" stroke-dasharray="6.2,3.07"/>
<line x1="346.0" y1="133.10" x2="580.7" y2="133.10" stroke="#fff" stroke-width="1.9" stroke-dasharray="6.2,3.07"/>
</g>
<rect x="346.0" y="8.5" width="234.70000000000005" height="249.2" fill="none" stroke="#000" stroke-width="0.9"/>
<path d="M346.00,257.7v3.6M346.0,257.70h-3.6M369.47,257.7v3.6M346.0,232.78h-3.6M392.94,257.7v3.6M346.0,207.86h-3.6M416.41,257.7v3.6M346.0,182.94h-3.6M439.88,257.7v3.6M346.0,158.02h-3.6M463.35,257.7v3.6M346.0,133.10h-3.6M486.82,257.7v3.6M346.0,108.18h-3.6M510.29,257.7v3.6M346.0,83.26h-3.6M533.76,257.7v3.6M346.0,58.34h-3.6M557.23,257.7v3.6M346.0,33.42h-3.6M580.70,257.7v3.6M346.0,8.50h-3.6" stroke="#000" stroke-width="0.9" fill="none"/>
<g clip-path="url(#cl)">
<path d="M47.5,45.0 L50.4,42.5 L53.4,42.0 L56.3,43.4 L59.2,43.8 L62.1,40.5 L65.0,36.5 L68.0,35.8 L70.9,35.1 L73.8,33.3 L76.8,33.5 L79.7,32.8 L82.6,32.4 L85.5,34.5 L88.5,37.5 L91.4,40.7 L94.3,43.9 L97.2,48.5 L100.2,55.0 L103.1,68.5 L106.0,131.5 L108.9,191.5 L111.8,222.5 L114.8,230.0 L117.7,224.0 L120.6,217.0 L123.5,206.5 L126.5,195.8 L129.4,182.5 L132.3,173.0 L135.2,165.0 L138.2,157.5 L141.1,150.5 L144.0,143.5 L146.9,136.0 L149.9,128.9 L152.8,120.5 L155.7,112.7 L158.7,110.0 L161.6,108.0 L164.5,105.5 L167.4,102.5 L170.3,98.5 L173.3,93.9 L176.2,91.5 L179.1,89.3 L182.1,87.1 L185.0,86.3 L187.9,84.7 L190.8,82.0 L193.8,80.0 L196.7,78.5 L199.6,76.2 L202.5,73.5 L205.4,71.8 L208.4,70.5 L211.3,69.5 L214.2,68.9 L217.2,68.5 L220.1,65.0 L223.0,62.5 L225.9,66.7 L228.8,65.5 L231.8,63.0 L234.7,60.3 L237.6,60.5 L240.6,61.8 L243.5,63.5 L246.4,61.8 L249.3,60.3 L252.2,58.5 L255.2,57.2 L258.1,59.7 L261.0,60.2 L263.9,58.8 L266.9,58.5 L269.8,58.7 L272.7,59.8 L275.6,61.5 L278.6,63.0 L281.5,64.0 L281.5,73.0 L278.6,72.0 L275.6,70.5 L272.7,68.8 L269.8,67.7 L266.9,67.5 L263.9,67.8 L261.0,69.2 L258.1,68.7 L255.2,66.2 L252.2,67.5 L249.3,69.3 L246.4,70.8 L243.5,72.5 L240.6,70.8 L237.6,69.5 L234.7,69.3 L231.8,72.0 L228.8,74.5 L225.9,75.7 L223.0,71.5 L220.1,74.0 L217.2,77.5 L214.2,77.9 L211.3,78.5 L208.4,79.5 L205.4,80.8 L202.5,82.5 L199.6,85.2 L196.7,87.5 L193.8,89.0 L190.8,91.0 L187.9,93.7 L185.0,95.3 L182.1,96.1 L179.1,98.3 L176.2,100.5 L173.3,102.9 L170.3,107.5 L167.4,111.5 L164.5,114.5 L161.6,117.0 L158.7,119.0 L155.7,121.7 L152.8,129.5 L149.9,137.9 L146.9,145.0 L144.0,152.5 L141.1,159.5 L138.2,166.5 L135.2,174.0 L132.3,182.0 L129.4,191.5 L126.5,204.8 L123.5,215.5 L120.6,226.0 L117.7,233.0 L114.8,239.0 L111.8,231.5 L108.9,200.5 L106.0,140.5 L103.1,77.5 L100.2,64.0 L97.2,57.5 L94.3,52.9 L91.4,49.7 L88.5,46.5 L85.5,43.5 L82.6,41.4 L79.7,41.8 L76.8,42.5 L73.8,42.3 L70.9,44.1 L68.0,44.8 L65.0,45.5 L62.1,49.5 L59.2,52.8 L56.3,52.4 L53.4,51.0 L50.4,51.5 L47.5,54.0Z" fill="#a2a2a2"/>
<path d="M47.5,49.5 L50.4,47.0 L53.4,46.5 L56.3,47.9 L59.2,48.3 L62.1,45.0 L65.0,41.0 L68.0,40.3 L70.9,39.6 L73.8,37.8 L76.8,38.0 L79.7,37.3 L82.6,36.9 L85.5,39.0 L88.5,42.0 L91.4,45.2 L94.3,48.4 L97.2,53.0 L100.2,59.5 L103.1,73.0 L106.0,136.0 L108.9,196.0 L111.8,227.0 L114.8,234.5 L117.7,228.5 L120.6,221.5 L123.5,211.0 L126.5,200.3 L129.4,187.0 L132.3,177.5 L135.2,169.5 L138.2,162.0 L141.1,155.0 L144.0,148.0 L146.9,140.5 L149.9,133.4 L152.8,125.0 L155.7,117.2 L158.7,114.5 L161.6,112.5 L164.5,110.0 L167.4,107.0 L170.3,103.0 L173.3,98.4 L176.2,96.0 L179.1,93.8 L182.1,91.6 L185.0,90.8 L187.9,89.2 L190.8,86.5 L193.8,84.5 L196.7,83.0 L199.6,80.7 L202.5,78.0 L205.4,76.3 L208.4,75.0 L211.3,74.0 L214.2,73.4 L217.2,73.0 L220.1,69.5 L223.0,67.0 L225.9,71.2 L228.8,70.0 L231.8,67.5 L234.7,64.8 L237.6,65.0 L240.6,66.3 L243.5,68.0 L246.4,66.3 L249.3,64.8 L252.2,63.0 L255.2,61.7 L258.1,64.2 L261.0,64.7 L263.9,63.3 L266.9,63.0 L269.8,63.2 L272.7,64.3 L275.6,66.0 L278.6,67.5 L281.5,68.5" fill="none" stroke="#000" stroke-width="1.65" stroke-linejoin="round"/>
<line x1="96.82" y1="8.5" x2="96.82" y2="257.7" stroke="#111" stroke-width="0.9" stroke-dasharray="2.0,1.1"/>
<line x1="114.38" y1="8.5" x2="114.38" y2="257.7" stroke="#111" stroke-width="0.9" stroke-dasharray="2.0,1.1"/>
</g>
<rect x="47.5" y="8.5" width="234.0" height="249.2" fill="none" stroke="#000" stroke-width="0.9"/>
<path d="M47.50,257.7v3.6M76.75,257.7v3.6M106.00,257.7v3.6M135.25,257.7v3.6M164.50,257.7v3.6M193.75,257.7v3.6M223.00,257.7v3.6M252.25,257.7v3.6M281.50,257.7v3.6M47.5,19.96h-3.6M47.5,65.30h-3.6M47.5,110.64h-3.6M47.5,155.98h-3.6M47.5,201.32h-3.6M47.5,246.66h-3.6" stroke="#000" stroke-width="0.9" fill="none"/>
<rect x="604.4" y="237.80" width="11.60" height="9.40" fill="#002451"/>
<rect x="604.4" y="228.70" width="11.60" height="9.40" fill="#005127"/>
<rect x="604.4" y="219.60" width="11.60" height="9.40" fill="#000ecd"/>
<rect x="604.4" y="210.50" width="11.60" height="9.40" fill="#0071ff"/>
<rect x="604.4" y="201.40" width="11.60" height="9.40" fill="#00d7ff"/>
<rect x="604.4" y="192.30" width="11.60" height="9.40" fill="#00ffe5"/>
<rect x="604.4" y="183.20" width="11.60" height="9.40" fill="#00faa3"/>
<rect x="604.4" y="174.10" width="11.60" height="9.40" fill="#00fd3f"/>
<rect x="604.4" y="165.00" width="11.60" height="9.40" fill="#33e800"/>
<rect x="604.4" y="155.90" width="11.60" height="9.40" fill="#6ad800"/>
<rect x="604.4" y="146.80" width="11.60" height="9.40" fill="#7ef804"/>
<rect x="604.4" y="137.70" width="11.60" height="9.40" fill="#a9ff2c"/>
<rect x="604.4" y="128.60" width="11.60" height="9.40" fill="#dbff20"/>
<rect x="604.4" y="119.50" width="11.60" height="9.40" fill="#fff300"/>
<rect x="604.4" y="110.40" width="11.60" height="9.40" fill="#ffda00"/>
<rect x="604.4" y="101.30" width="11.60" height="9.40" fill="#ffc10b"/>
<rect x="604.4" y="92.20" width="11.60" height="9.40" fill="#ff8107"/>
<rect x="604.4" y="83.10" width="11.60" height="9.40" fill="#ff3400"/>
<rect x="604.4" y="74.00" width="11.60" height="9.40" fill="#ff0512"/>
<rect x="604.4" y="64.90" width="11.60" height="9.40" fill="#ff00c3"/>
<rect x="604.4" y="55.80" width="11.60" height="9.40" fill="#cf18ff"/>
<rect x="604.4" y="46.70" width="11.60" height="9.40" fill="#b64af9"/>
<rect x="604.4" y="37.60" width="11.60" height="9.40" fill="#ec84ef"/>
<rect x="604.4" y="28.50" width="11.60" height="9.40" fill="#f3b3f5"/>
<rect x="604.4" y="19.40" width="11.60" height="9.40" fill="#fae1fb"/>
<path d="M604.4,19.4 L610.20,8.2 L616.0,19.4Z" fill="#fef8fe"/>
<path d="M604.4,246.9 L610.20,257.8 L616.0,246.9Z" fill="#000080"/>
<path d="M604.4,19.4 L610.20,8.2 L616.0,19.4 L616.0,246.9 L610.20,257.8 L604.4,246.9Z" fill="none" stroke="#000" stroke-width="0.9" stroke-linejoin="miter"/>
<path d="M616.0,19.40h3.6M616.0,46.70h3.6M616.0,74.00h3.6M616.0,101.30h3.6M616.0,128.60h3.6M616.0,155.90h3.6M616.0,183.20h3.6M616.0,210.50h3.6M616.0,237.80h3.6" stroke="#000" stroke-width="0.9" fill="none"/>
<g font-family="'Liberation Sans', sans-serif" fill="#000" opacity="0.999" style="will-change:transform">
<text x="47.5" y="274.2" font-size="10.4" text-anchor="middle" textLength="19.9" lengthAdjust="spacingAndGlyphs">−20</text>
<text x="76.8" y="274.2" font-size="10.4" text-anchor="middle" textLength="19.9" lengthAdjust="spacingAndGlyphs">−10</text>
<text x="106.0" y="274.2" font-size="10.4" text-anchor="middle" textLength="6.0" lengthAdjust="spacingAndGlyphs">0</text>
<text x="135.2" y="274.2" font-size="10.4" text-anchor="middle" textLength="12.0" lengthAdjust="spacingAndGlyphs">10</text>
<text x="164.5" y="274.2" font-size="10.4" text-anchor="middle" textLength="12.0" lengthAdjust="spacingAndGlyphs">20</text>
<text x="193.8" y="274.2" font-size="10.4" text-anchor="middle" textLength="12.0" lengthAdjust="spacingAndGlyphs">30</text>
<text x="223.0" y="274.2" font-size="10.4" text-anchor="middle" textLength="12.0" lengthAdjust="spacingAndGlyphs">40</text>
<text x="252.2" y="274.2" font-size="10.4" text-anchor="middle" textLength="12.0" lengthAdjust="spacingAndGlyphs">50</text>
<text x="281.5" y="274.2" font-size="10.4" text-anchor="middle" textLength="12.0" lengthAdjust="spacingAndGlyphs">60</text>
<text x="38.6" y="24.2" font-size="10.4" text-anchor="end" textLength="15.0" lengthAdjust="spacingAndGlyphs">0.2</text>
<text x="38.6" y="69.5" font-size="10.4" text-anchor="end" textLength="15.0" lengthAdjust="spacingAndGlyphs">0.0</text>
<text x="38.6" y="114.8" font-size="10.4" text-anchor="end" textLength="22.9" lengthAdjust="spacingAndGlyphs">−0.2</text>
<text x="38.6" y="160.2" font-size="10.4" text-anchor="end" textLength="22.9" lengthAdjust="spacingAndGlyphs">−0.4</text>
<text x="38.6" y="205.5" font-size="10.4" text-anchor="end" textLength="22.9" lengthAdjust="spacingAndGlyphs">−0.6</text>
<text x="38.6" y="250.9" font-size="10.4" text-anchor="end" textLength="22.9" lengthAdjust="spacingAndGlyphs">−0.8</text>
<text x="346.0" y="274.2" font-size="10.4" text-anchor="middle" textLength="13.9" lengthAdjust="spacingAndGlyphs">−5</text>
<text x="337.7" y="261.9" font-size="10.4" text-anchor="end" textLength="13.9" lengthAdjust="spacingAndGlyphs">−5</text>
<text x="369.5" y="274.2" font-size="10.4" text-anchor="middle" textLength="13.9" lengthAdjust="spacingAndGlyphs">−4</text>
<text x="337.7" y="237.0" font-size="10.4" text-anchor="end" textLength="13.9" lengthAdjust="spacingAndGlyphs">−4</text>
<text x="392.9" y="274.2" font-size="10.4" text-anchor="middle" textLength="13.9" lengthAdjust="spacingAndGlyphs">−3</text>
<text x="337.7" y="212.1" font-size="10.4" text-anchor="end" textLength="13.9" lengthAdjust="spacingAndGlyphs">−3</text>
<text x="416.4" y="274.2" font-size="10.4" text-anchor="middle" textLength="13.9" lengthAdjust="spacingAndGlyphs">−2</text>
<text x="337.7" y="187.1" font-size="10.4" text-anchor="end" textLength="13.9" lengthAdjust="spacingAndGlyphs">−2</text>
<text x="439.9" y="274.2" font-size="10.4" text-anchor="middle" textLength="13.9" lengthAdjust="spacingAndGlyphs">−1</text>
<text x="337.7" y="162.2" font-size="10.4" text-anchor="end" textLength="13.9" lengthAdjust="spacingAndGlyphs">−1</text>
<text x="463.4" y="274.2" font-size="10.4" text-anchor="middle" textLength="6.0" lengthAdjust="spacingAndGlyphs">0</text>
<text x="337.7" y="137.3" font-size="10.4" text-anchor="end" textLength="6.0" lengthAdjust="spacingAndGlyphs">0</text>
<text x="486.8" y="274.2" font-size="10.4" text-anchor="middle" textLength="6.0" lengthAdjust="spacingAndGlyphs">1</text>
<text x="337.7" y="112.4" font-size="10.4" text-anchor="end" textLength="6.0" lengthAdjust="spacingAndGlyphs">1</text>
<text x="510.3" y="274.2" font-size="10.4" text-anchor="middle" textLength="6.0" lengthAdjust="spacingAndGlyphs">2</text>
<text x="337.7" y="87.5" font-size="10.4" text-anchor="end" textLength="6.0" lengthAdjust="spacingAndGlyphs">2</text>
<text x="533.8" y="274.2" font-size="10.4" text-anchor="middle" textLength="6.0" lengthAdjust="spacingAndGlyphs">3</text>
<text x="337.7" y="62.5" font-size="10.4" text-anchor="end" textLength="6.0" lengthAdjust="spacingAndGlyphs">3</text>
<text x="557.2" y="274.2" font-size="10.4" text-anchor="middle" textLength="6.0" lengthAdjust="spacingAndGlyphs">4</text>
<text x="337.7" y="37.6" font-size="10.4" text-anchor="end" textLength="6.0" lengthAdjust="spacingAndGlyphs">4</text>
<text x="580.7" y="274.2" font-size="10.4" text-anchor="middle" textLength="6.0" lengthAdjust="spacingAndGlyphs">5</text>
<text x="337.7" y="12.7" font-size="10.4" text-anchor="end" textLength="6.0" lengthAdjust="spacingAndGlyphs">5</text>
<text x="624.6" y="23.6" font-size="10.4" text-anchor="start" textLength="28.9" lengthAdjust="spacingAndGlyphs">−0.20</text>
<text x="624.6" y="50.9" font-size="10.4" text-anchor="start" textLength="28.9" lengthAdjust="spacingAndGlyphs">−0.26</text>
<text x="624.6" y="78.2" font-size="10.4" text-anchor="start" textLength="28.9" lengthAdjust="spacingAndGlyphs">−0.32</text>
<text x="624.6" y="105.5" font-size="10.4" text-anchor="start" textLength="28.9" lengthAdjust="spacingAndGlyphs">−0.38</text>
<text x="624.6" y="132.8" font-size="10.4" text-anchor="start" textLength="28.9" lengthAdjust="spacingAndGlyphs">−0.44</text>
<text x="624.6" y="160.1" font-size="10.4" text-anchor="start" textLength="28.9" lengthAdjust="spacingAndGlyphs">−0.50</text>
<text x="624.6" y="187.4" font-size="10.4" text-anchor="start" textLength="28.9" lengthAdjust="spacingAndGlyphs">−0.56</text>
<text x="624.6" y="214.7" font-size="10.4" text-anchor="start" textLength="28.9" lengthAdjust="spacingAndGlyphs">−0.62</text>
<text x="624.6" y="242.0" font-size="10.4" text-anchor="start" textLength="28.9" lengthAdjust="spacingAndGlyphs">−0.68</text>
<text x="164.5" y="287.6" font-size="10.4" text-anchor="middle" textLength="115.1" lengthAdjust="spacingAndGlyphs">Days after LMI passsage</text>
<text x="463.4" y="287.6" font-size="10.4" text-anchor="middle" textLength="37.6" lengthAdjust="spacingAndGlyphs">Lon deg</text>
<text x="9.0" y="133.1" font-size="10.4" text-anchor="middle" textLength="45.1" lengthAdjust="spacingAndGlyphs" transform="rotate(-90 9.0 133.1)">SSTA (°C)</text>
<text x="316.8" y="133.1" font-size="10.4" text-anchor="middle" textLength="35.5" lengthAdjust="spacingAndGlyphs" transform="rotate(-90 316.8 133.1)">Lat deg</text>
<text x="666.2" y="133.1" font-size="10.4" text-anchor="middle" textLength="45.1" lengthAdjust="spacingAndGlyphs" transform="rotate(-90 666.2 133.1)">SSTA (°C)</text>
<text x="3.6" y="8.2" font-size="9.2" text-anchor="start" textLength="13.8" lengthAdjust="spacingAndGlyphs" font-weight="bold">(a)</text>
<text x="302.4" y="8.2" font-size="9.2" text-anchor="start" textLength="14.0" lengthAdjust="spacingAndGlyphs" font-weight="bold">(b)</text>
</g>
</svg>
</body></html>
